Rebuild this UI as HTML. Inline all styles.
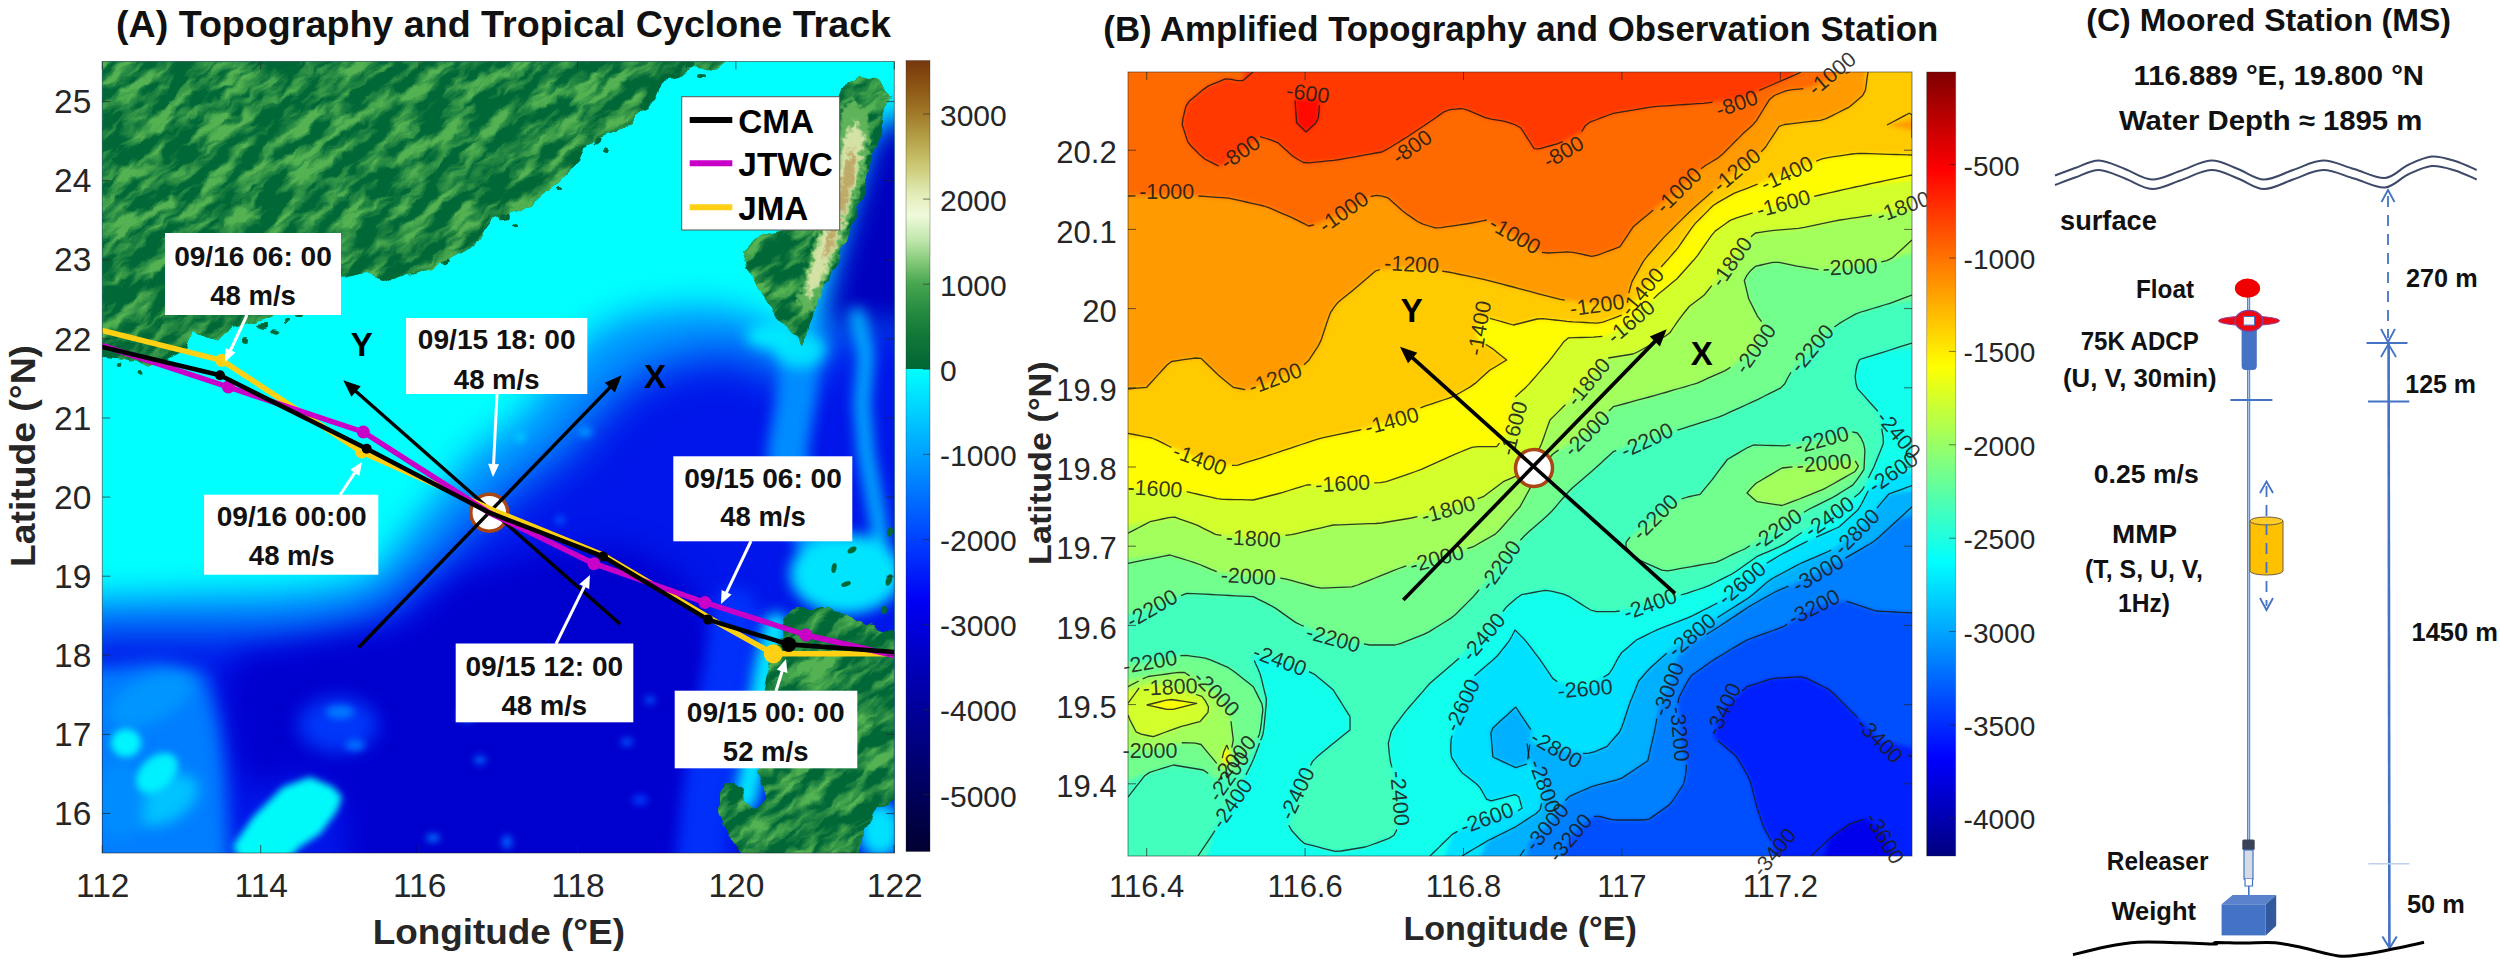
<!DOCTYPE html>
<html><head><meta charset="utf-8"><title>Figure</title>
<style>html,body{margin:0;padding:0;background:#fff}svg{display:block}</style></head><body>
<svg width="2500" height="966" viewBox="0 0 2500 966">
<defs>
<filter id="blurB" x="-20%" y="-20%" width="140%" height="140%" color-interpolation-filters="sRGB"><feGaussianBlur stdDeviation="2.2"/></filter>
<filter id="blA1" x="-20%" y="-20%" width="140%" height="140%" color-interpolation-filters="sRGB"><feGaussianBlur stdDeviation="17"/></filter>
<filter id="blA2" x="-20%" y="-20%" width="140%" height="140%" color-interpolation-filters="sRGB"><feGaussianBlur stdDeviation="22"/></filter>
<filter id="blA3" x="-20%" y="-20%" width="140%" height="140%" color-interpolation-filters="sRGB"><feGaussianBlur stdDeviation="14"/></filter>
<filter id="blA4" x="-20%" y="-20%" width="140%" height="140%" color-interpolation-filters="sRGB"><feGaussianBlur stdDeviation="7"/></filter>
<filter id="blA5" x="-20%" y="-20%" width="140%" height="140%" color-interpolation-filters="sRGB"><feGaussianBlur stdDeviation="3.5"/></filter>
<filter id="blA6" x="-20%" y="-20%" width="140%" height="140%" color-interpolation-filters="sRGB"><feGaussianBlur stdDeviation="9"/></filter>
<filter id="blS" x="-20%" y="-20%" width="140%" height="140%" color-interpolation-filters="sRGB"><feGaussianBlur stdDeviation="2.5"/></filter>
<filter id="landtex" x="0" y="0" width="100%" height="100%" filterUnits="objectBoundingBox" color-interpolation-filters="sRGB"><feTurbulence type="fractalNoise" baseFrequency="0.022 0.075" numOctaves="4" seed="7" result="n"/><feColorMatrix in="n" type="matrix" values="0 0 0 0 0.33  0 0 0 0 0.70  0 0 0 0 0.32  3.4 0 0 0 -1.38"/></filter>
<filter id="coast" filterUnits="userSpaceOnUse" x="60" y="20" width="900" height="900" color-interpolation-filters="sRGB"><feTurbulence type="fractalNoise" baseFrequency="0.07" numOctaves="2" seed="3" result="cn"/><feDisplacementMap in="SourceGraphic" in2="cn" scale="9" xChannelSelector="R" yChannelSelector="G"/></filter>
<filter id="rag" filterUnits="userSpaceOnUse" x="760" y="60" width="160" height="300" color-interpolation-filters="sRGB"><feGaussianBlur in="SourceGraphic" stdDeviation="1.6" result="b"/><feTurbulence type="fractalNoise" baseFrequency="0.16" numOctaves="2" seed="11" result="rn"/><feDisplacementMap in="b" in2="rn" scale="13" xChannelSelector="R" yChannelSelector="G"/></filter>
<linearGradient id="cbB" x1="0" y1="0" x2="0" y2="1">
<stop offset="0.0000" stop-color="rgb(128,0,0)"/>
<stop offset="0.0250" stop-color="rgb(153,0,0)"/>
<stop offset="0.0500" stop-color="rgb(179,0,0)"/>
<stop offset="0.0750" stop-color="rgb(204,0,0)"/>
<stop offset="0.1000" stop-color="rgb(229,0,0)"/>
<stop offset="0.1250" stop-color="rgb(255,0,0)"/>
<stop offset="0.1500" stop-color="rgb(255,26,0)"/>
<stop offset="0.1750" stop-color="rgb(255,51,0)"/>
<stop offset="0.2000" stop-color="rgb(255,76,0)"/>
<stop offset="0.2250" stop-color="rgb(255,102,0)"/>
<stop offset="0.2500" stop-color="rgb(255,128,0)"/>
<stop offset="0.2750" stop-color="rgb(255,153,0)"/>
<stop offset="0.3000" stop-color="rgb(255,179,0)"/>
<stop offset="0.3250" stop-color="rgb(255,204,0)"/>
<stop offset="0.3500" stop-color="rgb(255,229,0)"/>
<stop offset="0.3750" stop-color="rgb(255,255,0)"/>
<stop offset="0.4000" stop-color="rgb(229,255,26)"/>
<stop offset="0.4250" stop-color="rgb(204,255,51)"/>
<stop offset="0.4500" stop-color="rgb(179,255,76)"/>
<stop offset="0.4750" stop-color="rgb(153,255,102)"/>
<stop offset="0.5000" stop-color="rgb(128,255,128)"/>
<stop offset="0.5250" stop-color="rgb(102,255,153)"/>
<stop offset="0.5500" stop-color="rgb(76,255,179)"/>
<stop offset="0.5750" stop-color="rgb(51,255,204)"/>
<stop offset="0.6000" stop-color="rgb(26,255,229)"/>
<stop offset="0.6250" stop-color="rgb(0,255,255)"/>
<stop offset="0.6500" stop-color="rgb(0,229,255)"/>
<stop offset="0.6750" stop-color="rgb(0,204,255)"/>
<stop offset="0.7000" stop-color="rgb(0,179,255)"/>
<stop offset="0.7250" stop-color="rgb(0,153,255)"/>
<stop offset="0.7500" stop-color="rgb(0,128,255)"/>
<stop offset="0.7750" stop-color="rgb(0,102,255)"/>
<stop offset="0.8000" stop-color="rgb(0,76,255)"/>
<stop offset="0.8250" stop-color="rgb(0,51,255)"/>
<stop offset="0.8500" stop-color="rgb(0,26,255)"/>
<stop offset="0.8750" stop-color="rgb(0,0,255)"/>
<stop offset="0.9000" stop-color="rgb(0,0,229)"/>
<stop offset="0.9250" stop-color="rgb(0,0,204)"/>
<stop offset="0.9500" stop-color="rgb(0,0,179)"/>
<stop offset="0.9750" stop-color="rgb(0,0,153)"/>
<stop offset="1.0000" stop-color="rgb(0,0,128)"/>
</linearGradient>
<linearGradient id="cbA" x1="0" y1="0" x2="0" y2="1">
<stop offset="0.0000" stop-color="rgb(118,56,12)"/>
<stop offset="0.0333" stop-color="rgb(140,85,20)"/>
<stop offset="0.0658" stop-color="rgb(160,120,40)"/>
<stop offset="0.0982" stop-color="rgb(180,160,70)"/>
<stop offset="0.1307" stop-color="rgb(202,198,112)"/>
<stop offset="0.1685" stop-color="rgb(226,236,182)"/>
<stop offset="0.1956" stop-color="rgb(240,250,220)"/>
<stop offset="0.2280" stop-color="rgb(190,230,170)"/>
<stop offset="0.2551" stop-color="rgb(130,200,120)"/>
<stop offset="0.2821" stop-color="rgb(72,166,80)"/>
<stop offset="0.3145" stop-color="rgb(40,140,65)"/>
<stop offset="0.3470" stop-color="rgb(18,120,56)"/>
<stop offset="0.3902" stop-color="rgb(0,102,52)"/>
<stop offset="0.3903" stop-color="rgb(0,255,255)"/>
<stop offset="0.4984" stop-color="rgb(0,160,255)"/>
<stop offset="0.6066" stop-color="rgb(0,64,255)"/>
<stop offset="0.6823" stop-color="rgb(0,0,245)"/>
<stop offset="0.7688" stop-color="rgb(0,0,185)"/>
<stop offset="0.8770" stop-color="rgb(0,0,120)"/>
<stop offset="1.0000" stop-color="rgb(0,0,48)"/>
</linearGradient>
</defs>
<rect width="2500" height="966" fill="#fff"/>
<clipPath id="clipA"><rect x="102.3" y="61.5" width="792" height="791.5"/></clipPath>
<clipPath id="landA"><polygon points="102.0,40.0 724.0,40.0 724.0,62.0 711.0,72.0 694.0,67.0 677.0,77.0 664.0,80.0 657.0,97.0 644.0,108.0 627.0,127.0 587.0,143.0 580.0,160.0 560.0,180.0 540.0,197.0 520.0,210.0 493.0,220.0 480.0,238.0 466.0,250.0 432.0,269.0 400.0,277.0 388.0,281.0 366.0,273.0 341.0,278.0 300.0,300.0 273.0,317.0 255.0,323.0 233.0,327.6 217.0,340.0 192.5,334.0 186.0,349.0 167.7,358.7 146.0,365.0 124.0,358.7 102.0,357.0 80.0,357.0 80.0,40.0"/><polygon points="861.0,76.0 877.0,80.0 892.0,95.0 884.0,107.0 881.0,130.0 874.0,150.0 866.0,180.0 857.0,213.0 847.0,240.0 834.0,267.0 826.0,280.0 817.0,303.0 811.0,321.0 807.0,336.0 802.0,345.0 792.0,332.0 773.0,312.0 758.0,290.0 748.0,268.0 742.0,250.0 754.0,238.0 781.0,230.0 775.0,200.0 790.0,160.0 810.0,120.0 839.0,97.0 847.0,83.0"/><polygon points="781.0,621.0 798.0,607.0 829.0,607.0 857.0,621.0 894.0,634.0 920.0,634.0 920.0,801.0 894.0,801.0 877.0,807.0 864.0,831.0 857.0,853.0 857.0,880.0 741.0,880.0 741.0,853.0 727.0,831.0 719.0,811.0 719.0,794.0 724.0,784.0 734.0,781.0 741.0,787.0 744.0,801.0 757.0,807.0 767.0,801.0 761.0,784.0 757.0,771.0 760.7,768.0 761.0,700.0 764.0,686.0 773.0,655.0 782.6,636.6"/></clipPath>
<g clip-path="url(#clipA)">
<rect x="60" y="20" width="900" height="900" fill="rgb(0,255,255)"/>
<g filter="url(#blA1)"><polygon points="60.0,598.0 100.0,598.0 200.0,594.0 274.0,592.0 340.0,585.0 378.0,573.0 400.0,539.0 425.0,510.0 450.0,478.0 477.0,448.0 520.0,418.0 564.0,362.0 595.0,330.0 635.0,312.0 700.0,305.0 750.0,312.0 775.0,328.0 795.0,350.0 812.0,320.0 830.0,280.0 850.0,240.0 862.0,200.0 872.0,160.0 885.0,130.0 894.0,110.0 940.0,110.0 940.0,900.0 60.0,900.0" fill="rgb(0,150,255)"/></g>
<g filter="url(#blA2)"><polygon points="60.0,632.0 100.0,630.0 200.0,630.0 274.0,630.0 335.0,624.0 385.0,608.0 418.0,580.0 448.0,553.0 478.0,520.0 508.0,496.0 538.0,473.0 572.0,448.0 608.0,402.0 648.0,372.0 695.0,357.0 740.0,354.0 772.0,372.0 800.0,380.0 825.0,350.0 845.0,325.0 870.0,318.0 940.0,318.0 940.0,900.0 60.0,900.0" fill="rgb(0,22,234)"/></g>
<g filter="url(#blA3)"><polygon points="240.0,655.0 300.0,645.0 401.0,628.0 459.0,578.0 540.0,553.0 622.0,546.0 680.0,574.0 712.0,625.0 728.0,677.0 709.0,740.0 690.0,798.0 680.0,900.0 350.0,900.0 345.0,820.0 335.0,790.0 300.0,775.0 250.0,790.0 236.0,760.0 228.0,720.0 226.0,680.0" fill="rgb(0,0,206)"/><polygon points="835.0,270.0 850.0,215.0 862.0,175.0 872.0,140.0 884.0,125.0 940.0,120.0 940.0,330.0 894.0,325.0 868.0,322.0 850.0,330.0 826.0,318.0" fill="rgb(0,0,190)"/></g>
<g filter="url(#blA6)"><polygon points="60.0,668.0 100.0,668.0 160.0,662.0 205.0,672.0 218.0,720.0 225.0,770.0 232.0,900.0 60.0,900.0" fill="rgb(0,126,255)"/><ellipse cx="338" cy="725" rx="40" ry="28" fill="rgb(0,55,248)"/></g>
<g filter="url(#blA4)">
<ellipse cx="150" cy="700" rx="45" ry="22" transform="rotate(-25 150 700)" fill="rgb(0,150,255)"/>
<ellipse cx="165" cy="800" rx="36" ry="22" transform="rotate(-30 165 800)" fill="rgb(0,195,255)"/>

<ellipse cx="120" cy="800" rx="25" ry="40" fill="rgb(0,140,255)"/>
<path d="M801 350 L796 400 L787 453 L797 500 L818 545 L838 580" stroke="rgb(0,140,255)" stroke-width="40" fill="none" stroke-linecap="round" stroke-linejoin="round"/>
<path d="M857 315 L866 355 L862 404 L866 453 L878 520 L882 560" stroke="rgb(0,185,255)" stroke-width="15" fill="none" stroke-linecap="round" stroke-linejoin="round"/>
<ellipse cx="846" cy="574" rx="56" ry="40" fill="rgb(0,228,255)"/>
<ellipse cx="800" cy="350" rx="26" ry="18" fill="rgb(0,225,255)"/>
<ellipse cx="772" cy="336" rx="26" ry="12" fill="rgb(0,235,255)"/>
<path d="M735 610 L728 660 L718 720 L708 780 L700 860" stroke="rgb(0,48,250)" stroke-width="46" fill="none" stroke-linecap="round"/>
<path d="M776 625 L766 670 L758 720 L752 770 L745 800" stroke="rgb(0,235,255)" stroke-width="24" fill="none" stroke-linecap="round"/>
<ellipse cx="880" cy="830" rx="22" ry="28" fill="rgb(0,225,255)"/>
</g>
<g filter="url(#blA5)">
<ellipse cx="467" cy="716" rx="9" ry="5" fill="rgb(0,120,255)"/>
<ellipse cx="480" cy="760" rx="6" ry="4" fill="rgb(0,110,255)"/>
<ellipse cx="433" cy="838" rx="7" ry="4" fill="rgb(0,120,255)"/>
<ellipse cx="507" cy="842" rx="5" ry="7" fill="rgb(0,100,255)"/>
<ellipse cx="627" cy="742" rx="6" ry="4" fill="rgb(0,90,255)"/>
<ellipse cx="650" cy="700" rx="5" ry="4" fill="rgb(0,90,255)"/>
<ellipse cx="585" cy="432" rx="7" ry="5" fill="rgb(0,150,255)"/>
<ellipse cx="520" cy="437" rx="6" ry="5" fill="rgb(0,200,255)"/>
<ellipse cx="560" cy="520" rx="5" ry="4" fill="rgb(0,90,255)"/>
<ellipse cx="340" cy="712" rx="14" ry="7" fill="rgb(0,120,255)"/>
<ellipse cx="355" cy="745" rx="10" ry="6" fill="rgb(0,110,255)"/>
<ellipse cx="640" cy="800" rx="8" ry="5" fill="rgb(0,60,255)"/>
<ellipse cx="610" cy="660" rx="8" ry="5" fill="rgb(0,60,255)"/>
<polygon points="233.0,846.0 253.0,817.0 283.0,787.0 310.0,777.0 333.0,787.0 342.0,797.0 337.0,811.0 320.0,834.0 300.0,847.0 287.0,860.0 240.0,860.0" fill="rgb(0,250,250)"/>
<ellipse cx="126" cy="743" rx="15" ry="14" fill="rgb(0,245,255)"/>
<ellipse cx="157" cy="773" rx="24" ry="16" transform="rotate(-42 157 773)" fill="rgb(0,240,255)"/>
</g>
<g filter="url(#coast)"><g clip-path="url(#landA)">
<rect x="60" y="20" width="900" height="900" fill="rgb(0,104,55)"/>
<g transform="rotate(-38 500 450)"><rect x="-300" y="-400" width="1700" height="1700" filter="url(#landtex)" /></g>
</g>
<ellipse cx="690" cy="66" rx="5" ry="3" transform="rotate(-20 690 66)" fill="rgb(0,104,55)"/>
<ellipse cx="702" cy="76" rx="3" ry="2" transform="rotate(0 702 76)" fill="rgb(0,104,55)"/>
<ellipse cx="597" cy="141" rx="5" ry="3" transform="rotate(-30 597 141)" fill="rgb(0,104,55)"/>
<ellipse cx="606" cy="150" rx="3" ry="2" transform="rotate(0 606 150)" fill="rgb(0,104,55)"/>
<ellipse cx="505" cy="217" rx="5" ry="3" transform="rotate(-20 505 217)" fill="rgb(0,104,55)"/>
<ellipse cx="516" cy="224" rx="3" ry="2" transform="rotate(0 516 224)" fill="rgb(0,104,55)"/>
<ellipse cx="262" cy="327" rx="5" ry="3" transform="rotate(0 262 327)" fill="rgb(0,104,55)"/>
<ellipse cx="276" cy="331" rx="4" ry="2.5" transform="rotate(20 276 331)" fill="rgb(0,104,55)"/>
<ellipse cx="287" cy="322" rx="3" ry="2" transform="rotate(0 287 322)" fill="rgb(0,104,55)"/>
<ellipse cx="246" cy="341" rx="4" ry="3" transform="rotate(0 246 341)" fill="rgb(0,104,55)"/>
<ellipse cx="228" cy="352" rx="3" ry="2" transform="rotate(0 228 352)" fill="rgb(0,104,55)"/>
<ellipse cx="140" cy="373" rx="2.5" ry="2" transform="rotate(0 140 373)" fill="rgb(0,104,55)"/>
<ellipse cx="118" cy="363" rx="2.5" ry="2" transform="rotate(0 118 363)" fill="rgb(0,104,55)"/>
<ellipse cx="300" cy="316" rx="3" ry="2" transform="rotate(0 300 316)" fill="rgb(0,104,55)"/>
<ellipse cx="322" cy="309" rx="3" ry="2" transform="rotate(0 322 309)" fill="rgb(0,104,55)"/>
<ellipse cx="447" cy="262" rx="4" ry="2.5" transform="rotate(-30 447 262)" fill="rgb(0,104,55)"/>
<ellipse cx="560" cy="188" rx="3" ry="2" transform="rotate(0 560 188)" fill="rgb(0,104,55)"/>
</g>
<g filter="url(#rag)"><polygon points="852.0,100.0 868.0,110.0 870.0,140.0 862.0,180.0 850.0,215.0 838.0,250.0 826.0,280.0 812.0,310.0 802.0,318.0 798.0,300.0 806.0,270.0 815.0,240.0 822.0,215.0 830.0,180.0 838.0,140.0 842.0,110.0" fill="rgb(95,180,90)"/></g>
<g filter="url(#rag)"><polygon points="855.0,120.0 864.0,135.0 858.0,175.0 846.0,215.0 834.0,250.0 820.0,285.0 808.0,300.0 806.0,285.0 816.0,250.0 826.0,215.0 836.0,175.0 846.0,135.0" fill="rgb(212,226,165)"/><polygon points="853.0,145.0 856.0,160.0 848.0,198.0 838.0,228.0 828.0,256.0 823.0,258.0 829.0,233.0 838.0,200.0 847.0,160.0" fill="rgb(190,170,105)"/></g>
<ellipse cx="852" cy="550" rx="5" ry="3" transform="rotate(-30 852 550)" fill="rgb(0,104,55)"/>
<ellipse cx="834" cy="568" rx="2.5" ry="5" transform="rotate(10 834 568)" fill="rgb(0,104,55)"/>
<ellipse cx="846" cy="584" rx="5" ry="2.5" transform="rotate(-20 846 584)" fill="rgb(0,104,55)"/>
<ellipse cx="889" cy="580" rx="3" ry="6" transform="rotate(20 889 580)" fill="rgb(0,104,55)"/>
<ellipse cx="890" cy="532" rx="3" ry="5" transform="rotate(10 890 532)" fill="rgb(0,104,55)"/>
<ellipse cx="884" cy="610" rx="3" ry="4" transform="rotate(0 884 610)" fill="rgb(0,104,55)"/>
<circle cx="489.3" cy="512.7" r="18.5" fill="#fff" stroke="rgb(170,70,20)" stroke-width="3.5"/>
<line x1="620.0" y1="624.0" x2="354.6" y2="390.2" stroke="#000" stroke-width="3.4"/><polygon points="343.3,380.3 360.7,386.3 351.4,396.8" fill="#000"/>
<line x1="358.7" y1="647.5" x2="611.3" y2="386.1" stroke="#000" stroke-width="3.4"/><polygon points="621.7,375.3 614.9,392.4 604.9,382.7" fill="#000"/>
<polyline points="102.0,330.3 221.7,360.3 361.7,452.0 495.0,511.0 603.0,555.0 717.4,622.7 773.3,653.7 894.4,653.7" fill="none" stroke="rgb(255,208,20)" stroke-width="5.5" stroke-linejoin="round"/>
<circle cx="221.7" cy="360.3" r="6.5" fill="rgb(255,208,20)"/>
<circle cx="361.7" cy="452" r="6.5" fill="rgb(255,208,20)"/>
<circle cx="773.3" cy="653.7" r="9.5" fill="rgb(255,208,20)"/>
<polyline points="102.0,345.3 228.3,387.0 363.3,432.0 489.3,512.7 594.0,563.7 705.0,602.5 805.9,635.0 894.4,655.5" fill="none" stroke="rgb(200,0,200)" stroke-width="5.5" stroke-linejoin="round"/>
<circle cx="228.3" cy="387" r="6.5" fill="rgb(200,0,200)"/>
<circle cx="363.3" cy="432" r="6.5" fill="rgb(200,0,200)"/>
<circle cx="594" cy="563.7" r="6.5" fill="rgb(200,0,200)"/>
<circle cx="705" cy="602.5" r="6.5" fill="rgb(200,0,200)"/>
<circle cx="805.9" cy="635" r="6.5" fill="rgb(200,0,200)"/>
<polyline points="102.0,347.0 220.0,375.3 366.7,448.7 489.3,512.7 603.0,556.5 708.0,619.6 788.8,644.4 894.4,652.0" fill="none" stroke="#000" stroke-width="4.6" stroke-linejoin="round"/>
<circle cx="220" cy="375.3" r="5" fill="#000"/>
<circle cx="366.7" cy="448.7" r="5" fill="#000"/>
<circle cx="603" cy="556.5" r="5" fill="#000"/>
<circle cx="708" cy="619.6" r="5" fill="#000"/>
<circle cx="788.8" cy="644.4" r="7.5" fill="#000"/>
<line x1="247.0" y1="315.0" x2="229.7" y2="352.0" stroke="#fff" stroke-width="3"/><polygon points="225.0,362.0 225.5,347.9 235.5,352.6" fill="#fff"/>
<line x1="340.0" y1="495.0" x2="355.9" y2="471.2" stroke="#fff" stroke-width="3"/><polygon points="362.0,462.0 359.4,475.9 350.2,469.8" fill="#fff"/>
<line x1="497.0" y1="394.0" x2="493.5" y2="466.0" stroke="#fff" stroke-width="3"/><polygon points="493.0,477.0 488.1,463.8 499.1,464.3" fill="#fff"/>
<line x1="751.0" y1="541.0" x2="725.7" y2="594.1" stroke="#fff" stroke-width="3"/><polygon points="721.0,604.0 721.6,589.9 731.6,594.6" fill="#fff"/>
<line x1="556.0" y1="644.0" x2="585.1" y2="584.9" stroke="#fff" stroke-width="3"/><polygon points="590.0,575.0 589.2,589.1 579.3,584.2" fill="#fff"/>
<line x1="776.0" y1="691.0" x2="782.7" y2="669.5" stroke="#fff" stroke-width="3"/><polygon points="786.0,659.0 787.4,673.0 776.9,669.8" fill="#fff"/>
</g>
<g font-family="'Liberation Sans',Arial,sans-serif" font-weight="bold" font-size="27.5" text-anchor="middle" fill="#111">
<rect x="165.0" y="233.0" width="176.0" height="82.0" fill="#fff"/>
<text x="253.0" y="266.0" textLength="157.7" lengthAdjust="spacingAndGlyphs">09/16 06: 00</text>
<text x="253.0" y="305.0" textLength="85.7" lengthAdjust="spacingAndGlyphs">48 m/s</text>
<rect x="406.0" y="318.0" width="181.3" height="76.0" fill="#fff"/>
<text x="496.7" y="348.7" textLength="157.7" lengthAdjust="spacingAndGlyphs">09/15 18: 00</text>
<text x="496.7" y="388.7" textLength="85.7" lengthAdjust="spacingAndGlyphs">48 m/s</text>
<rect x="204.0" y="494.7" width="174.3" height="80.0" fill="#fff"/>
<text x="291.7" y="526.0" textLength="150.0" lengthAdjust="spacingAndGlyphs">09/16 00:00</text>
<text x="291.7" y="565.3" textLength="85.7" lengthAdjust="spacingAndGlyphs">48 m/s</text>
<rect x="673.3" y="456.3" width="179.0" height="85.0" fill="#fff"/>
<text x="763.0" y="487.7" textLength="157.7" lengthAdjust="spacingAndGlyphs">09/15 06: 00</text>
<text x="763.0" y="526.0" textLength="85.7" lengthAdjust="spacingAndGlyphs">48 m/s</text>
<rect x="455.7" y="643.5" width="177.6" height="78.8" fill="#fff"/>
<text x="544.3" y="675.7" textLength="157.7" lengthAdjust="spacingAndGlyphs">09/15 12: 00</text>
<text x="544.3" y="714.7" textLength="85.7" lengthAdjust="spacingAndGlyphs">48 m/s</text>
<rect x="674.7" y="690.7" width="182.6" height="77.6" fill="#fff"/>
<text x="765.7" y="722.3" textLength="157.7" lengthAdjust="spacingAndGlyphs">09/15 00: 00</text>
<text x="765.7" y="761.3" textLength="85.7" lengthAdjust="spacingAndGlyphs">52 m/s</text>
</g>
<g font-family="'Liberation Sans',Arial,sans-serif" font-weight="bold" font-size="33" text-anchor="middle" fill="#000">
<text x="361.7" y="355.5">Y</text><text x="655" y="387.5">X</text></g>
<rect x="681.7" y="96.7" width="158" height="133.3" fill="#fff" stroke="#555" stroke-width="1"/>
<line x1="689.7" y1="120" x2="732.3" y2="120" stroke="#000" stroke-width="6"/>
<line x1="689.7" y1="163.3" x2="732.3" y2="163.3" stroke="rgb(200,0,200)" stroke-width="6"/>
<line x1="689.7" y1="207.3" x2="732.3" y2="207.3" stroke="rgb(255,208,20)" stroke-width="6"/>
<g font-family="'Liberation Sans',Arial,sans-serif" font-weight="bold" font-size="33" fill="#000">
<text x="738.3" y="132.7" textLength="75.7" lengthAdjust="spacingAndGlyphs">CMA</text>
<text x="738.3" y="175.7" textLength="94.7" lengthAdjust="spacingAndGlyphs">JTWC</text>
<text x="738.3" y="220" textLength="70" lengthAdjust="spacingAndGlyphs">JMA</text>
</g>
<rect x="102.3" y="61.5" width="792" height="791.5" fill="none" stroke="#262626" stroke-opacity="0.55" stroke-width="1"/>
<g stroke="#262626" stroke-opacity="0.7" stroke-width="1">
<line x1="102.3" y1="813.5" x2="110.3" y2="813.5"/>
<line x1="894.3" y1="813.5" x2="886.3" y2="813.5"/>
<line x1="102.3" y1="734.4" x2="110.3" y2="734.4"/>
<line x1="894.3" y1="734.4" x2="886.3" y2="734.4"/>
<line x1="102.3" y1="655.2" x2="110.3" y2="655.2"/>
<line x1="894.3" y1="655.2" x2="886.3" y2="655.2"/>
<line x1="102.3" y1="576.2" x2="110.3" y2="576.2"/>
<line x1="894.3" y1="576.2" x2="886.3" y2="576.2"/>
<line x1="102.3" y1="497.1" x2="110.3" y2="497.1"/>
<line x1="894.3" y1="497.1" x2="886.3" y2="497.1"/>
<line x1="102.3" y1="418.0" x2="110.3" y2="418.0"/>
<line x1="894.3" y1="418.0" x2="886.3" y2="418.0"/>
<line x1="102.3" y1="338.9" x2="110.3" y2="338.9"/>
<line x1="894.3" y1="338.9" x2="886.3" y2="338.9"/>
<line x1="102.3" y1="259.8" x2="110.3" y2="259.8"/>
<line x1="894.3" y1="259.8" x2="886.3" y2="259.8"/>
<line x1="102.3" y1="180.7" x2="110.3" y2="180.7"/>
<line x1="894.3" y1="180.7" x2="886.3" y2="180.7"/>
<line x1="102.3" y1="101.6" x2="110.3" y2="101.6"/>
<line x1="894.3" y1="101.6" x2="886.3" y2="101.6"/>
<line x1="102.3" y1="853" x2="102.3" y2="845"/>
<line x1="102.3" y1="61.5" x2="102.3" y2="69.5"/>
<line x1="260.7" y1="853" x2="260.7" y2="845"/>
<line x1="260.7" y1="61.5" x2="260.7" y2="69.5"/>
<line x1="419.1" y1="853" x2="419.1" y2="845"/>
<line x1="419.1" y1="61.5" x2="419.1" y2="69.5"/>
<line x1="577.5" y1="853" x2="577.5" y2="845"/>
<line x1="577.5" y1="61.5" x2="577.5" y2="69.5"/>
<line x1="735.9" y1="853" x2="735.9" y2="845"/>
<line x1="735.9" y1="61.5" x2="735.9" y2="69.5"/>
<line x1="894.3" y1="853" x2="894.3" y2="845"/>
<line x1="894.3" y1="61.5" x2="894.3" y2="69.5"/>
</g>
<g font-family="'Liberation Sans',Arial,sans-serif" font-size="33.5" fill="#262626">
<text x="91.3" y="825.1" text-anchor="end">16</text>
<text x="91.3" y="746.0" text-anchor="end">17</text>
<text x="91.3" y="666.9" text-anchor="end">18</text>
<text x="91.3" y="587.8" text-anchor="end">19</text>
<text x="91.3" y="508.7" text-anchor="end">20</text>
<text x="91.3" y="429.6" text-anchor="end">21</text>
<text x="91.3" y="350.5" text-anchor="end">22</text>
<text x="91.3" y="271.4" text-anchor="end">23</text>
<text x="91.3" y="192.3" text-anchor="end">24</text>
<text x="91.3" y="113.2" text-anchor="end">25</text>
<text x="102.8" y="896.6" text-anchor="middle">112</text>
<text x="261.2" y="896.6" text-anchor="middle">114</text>
<text x="419.6" y="896.6" text-anchor="middle">116</text>
<text x="578.0" y="896.6" text-anchor="middle">118</text>
<text x="736.4" y="896.6" text-anchor="middle">120</text>
<text x="894.8" y="896.6" text-anchor="middle">122</text>
</g>
<text x="116" y="36.7" font-family="'Liberation Sans',Arial,sans-serif" font-weight="bold" font-size="37.5" fill="#111" textLength="775" lengthAdjust="spacingAndGlyphs">(A) Topography and Tropical Cyclone Track</text>
<text x="372.7" y="944" font-family="'Liberation Sans',Arial,sans-serif" font-weight="bold" font-size="35" fill="#262626" textLength="252.3" lengthAdjust="spacingAndGlyphs">Longitude (°E)</text>
<text transform="translate(35 567) rotate(-90)" font-family="'Liberation Sans',Arial,sans-serif" font-weight="bold" font-size="35" fill="#262626" textLength="222" lengthAdjust="spacingAndGlyphs">Latitude (°N)</text>
<rect x="906" y="60.5" width="24" height="791" fill="url(#cbA)"/>
<rect x="906" y="60.5" width="24" height="791" fill="none" stroke="#262626" stroke-opacity="0.4" stroke-width="0.8"/>
<g font-family="'Liberation Sans',Arial,sans-serif" font-size="30" fill="#262626">
<line x1="923" y1="114.0" x2="930" y2="114.0" stroke="#262626" stroke-opacity="0.6"/>
<text x="940" y="125.7">3000</text>
<line x1="923" y1="199.1" x2="930" y2="199.1" stroke="#262626" stroke-opacity="0.6"/>
<text x="940" y="210.8">2000</text>
<line x1="923" y1="284.2" x2="930" y2="284.2" stroke="#262626" stroke-opacity="0.6"/>
<text x="940" y="295.9">1000</text>
<line x1="923" y1="369.3" x2="930" y2="369.3" stroke="#262626" stroke-opacity="0.6"/>
<text x="940" y="381.0">0</text>
<line x1="923" y1="454.4" x2="930" y2="454.4" stroke="#262626" stroke-opacity="0.6"/>
<text x="940" y="466.1">-1000</text>
<line x1="923" y1="539.5" x2="930" y2="539.5" stroke="#262626" stroke-opacity="0.6"/>
<text x="940" y="551.2">-2000</text>
<line x1="923" y1="624.6" x2="930" y2="624.6" stroke="#262626" stroke-opacity="0.6"/>
<text x="940" y="636.3">-3000</text>
<line x1="923" y1="709.7" x2="930" y2="709.7" stroke="#262626" stroke-opacity="0.6"/>
<text x="940" y="721.4">-4000</text>
<line x1="923" y1="794.8" x2="930" y2="794.8" stroke="#262626" stroke-opacity="0.6"/>
<text x="940" y="806.5">-5000</text>
</g>
<clipPath id="clipB"><rect x="1128" y="72" width="784" height="784"/></clipPath>
<g clip-path="url(#clipB)">
<g filter="url(#blurB)">
<rect x="1088" y="32" width="864" height="864" fill="rgb(255,106,0)"/>
<polygon points="1253.0,32.0 1241.7,81.7 1226.7,78.3 1206.7,86.7 1186.7,103.3 1181.7,123.3 1188.3,143.3 1203.3,158.3 1220.0,166.7 1240.0,152.0 1260.0,136.7 1276.7,141.7 1293.3,156.7 1305.0,163.3 1336.7,160.0 1383.3,151.7 1407.0,137.0 1430.0,121.7 1446.7,110.0 1463.3,108.3 1486.7,118.3 1506.7,121.7 1520.0,126.7 1535.0,150.0 1560.0,143.0 1581.7,131.7 1586.7,123.3 1613.3,113.3 1653.3,106.7 1703.3,103.3 1740.0,99.0 1764.7,88.0 1794.7,75.0 1801.0,32.0" fill="rgb(255,57,0)"/>
<polygon points="1295.0,99.0 1320.0,99.0 1318.0,121.0 1306.0,132.0 1296.6,122.7" fill="rgb(255,9,0)"/>
<polygon points="1088.0,196.0 1167.0,195.0 1200.0,196.0 1230.0,198.3 1266.7,206.7 1293.3,218.3 1310.0,226.7 1343.0,212.0 1373.3,195.0 1386.7,196.7 1403.3,211.7 1420.0,223.3 1436.7,228.3 1470.0,223.3 1486.7,220.0 1517.0,236.0 1543.3,253.3 1570.0,251.7 1593.3,256.7 1620.0,246.7 1633.3,226.7 1653.3,210.0 1678.0,189.0 1703.3,166.7 1720.0,156.7 1743.3,133.3 1754.7,123.3 1771.3,96.7 1788.0,90.0 1808.0,88.3 1831.0,78.0 1850.0,32.0 1952.0,32.0 1952.0,896.0 1088.0,896.0" fill="rgb(255,154,0)"/>
<polygon points="1088.0,389.0 1146.7,387.3 1170.0,361.7 1200.0,357.3 1220.0,376.7 1233.3,387.3 1246.7,390.0 1275.0,379.0 1306.7,363.3 1320.0,343.3 1330.0,313.3 1336.7,303.3 1353.3,290.0 1376.7,270.0 1411.7,267.0 1446.7,271.7 1486.7,280.0 1536.7,293.3 1563.3,300.0 1597.0,303.0 1627.0,299.0 1632.0,281.6 1644.5,259.3 1664.3,236.9 1689.2,212.0 1711.6,192.2 1736.4,170.0 1763.7,149.9 1780.0,125.0 1823.3,120.0 1850.0,106.7 1865.0,93.3 1868.0,32.0 1952.0,32.0 1952.0,896.0 1088.0,896.0" fill="rgb(255,202,0)"/>
<polygon points="1887.0,125.0 1952.0,111.7 1952.0,138.0" fill="rgb(255,154,0)"/>
<polygon points="1088.0,433.3 1153.3,438.3 1170.0,446.7 1200.0,459.0 1235.0,466.0 1270.0,455.0 1320.0,438.3 1360.0,430.0 1391.7,420.0 1423.3,406.7 1453.3,396.7 1473.3,385.0 1490.0,370.0 1506.7,360.0 1490.0,346.7 1477.0,340.0 1476.0,325.0 1490.0,318.3 1513.3,325.0 1540.0,318.3 1570.0,321.7 1600.0,323.3 1624.6,313.9 1642.0,292.0 1656.9,271.7 1676.8,249.3 1694.2,224.5 1714.0,204.6 1733.9,193.4 1756.3,184.7 1786.7,173.3 1823.3,158.3 1856.7,153.3 1952.0,155.0 1952.0,896.0 1088.0,896.0" fill="rgb(255,251,0)"/>
<polygon points="1088.0,487.0 1155.0,489.0 1186.7,491.7 1220.0,499.3 1253.3,500.0 1280.0,493.3 1306.7,485.0 1342.7,483.3 1383.3,482.7 1420.0,470.0 1453.3,455.0 1473.3,446.7 1496.7,446.7 1510.0,430.0 1511.7,400.0 1526.7,386.7 1550.0,360.0 1566.7,338.0 1594.8,337.0 1607.0,336.0 1630.8,321.4 1656.9,295.3 1676.8,279.0 1696.6,256.8 1714.0,232.0 1731.4,219.5 1751.3,213.3 1783.0,204.0 1820.0,195.0 1856.7,186.7 1952.0,175.0 1952.0,896.0 1088.0,896.0" fill="rgb(211,255,44)"/>
<polygon points="1088.0,533.3 1150.0,521.7 1173.3,516.7 1196.7,525.0 1216.7,535.0 1253.3,538.3 1290.0,535.0 1333.3,525.0 1380.0,523.3 1410.0,518.3 1448.3,509.3 1483.3,496.7 1503.3,481.7 1515.0,476.7 1534.0,460.0 1541.7,443.3 1550.0,420.0 1560.0,410.0 1588.3,381.7 1606.7,358.3 1634.5,353.7 1654.4,342.5 1669.3,333.8 1679.3,318.9 1689.2,306.5 1704.0,295.3 1731.4,261.7 1753.8,233.2 1771.2,230.7 1800.0,228.2 1840.0,220.0 1873.3,215.0 1952.0,204.0 1952.0,896.0 1088.0,896.0" fill="rgb(163,255,92)"/>
<polygon points="1088.0,563.3 1170.0,555.0 1196.7,563.3 1216.7,571.7 1248.3,576.0 1283.3,578.3 1320.0,588.3 1353.3,586.7 1386.7,573.3 1403.3,566.7 1436.7,558.3 1473.3,546.7 1496.7,533.3 1520.0,506.7 1528.3,491.7 1540.0,470.0 1553.3,453.3 1586.7,433.3 1613.3,406.7 1656.7,395.0 1696.7,383.3 1726.7,370.0 1755.0,348.3 1763.0,323.0 1758.8,318.9 1748.8,299.0 1743.9,279.0 1753.8,266.7 1776.0,261.7 1800.0,266.7 1820.0,270.0 1850.0,268.0 1890.0,260.0 1952.0,240.0 1952.0,896.0 1088.0,896.0" fill="rgb(114,255,141)"/>
<polygon points="1088.0,622.0 1151.7,608.3 1186.7,593.3 1220.0,595.0 1253.3,596.7 1273.3,606.7 1296.7,623.3 1333.3,638.3 1370.0,645.0 1396.7,645.0 1426.7,633.3 1453.3,616.7 1473.3,596.7 1500.0,565.0 1523.3,536.7 1550.0,513.3 1570.0,490.0 1593.3,470.0 1613.3,451.7 1646.7,440.0 1683.3,428.3 1720.0,416.7 1756.7,400.0 1783.3,386.7 1790.0,373.3 1811.7,348.3 1836.7,325.0 1856.7,313.3 1890.0,303.3 1952.0,295.0 1952.0,896.0 1088.0,896.0" fill="rgb(66,255,189)"/>
<polygon points="1784.5,445.8 1752.0,445.0 1727.3,459.5 1712.4,479.4 1700.0,494.3 1683.0,498.0 1655.0,517.0 1630.0,537.0 1624.0,545.0 1636.6,559.0 1664.6,571.4 1717.4,562.0 1736.0,552.8 1744.7,549.0 1777.0,529.0 1809.3,509.0 1834.0,496.8 1854.0,484.3 1864.0,469.4 1865.0,447.0 1859.0,433.4 1849.0,431.0 1821.7,439.6" fill="rgb(114,255,141)"/>
<polygon points="1782.0,468.0 1754.7,484.0 1747.0,493.0 1757.0,501.7 1782.0,505.5 1799.4,499.0 1824.0,489.0 1856.5,470.7 1859.0,464.5 1854.0,459.5 1824.0,463.0" fill="rgb(163,255,92)"/>
<polygon points="1088.0,664.0 1150.0,661.7 1183.3,655.0 1206.7,658.3 1230.0,668.3 1253.3,686.7 1263.3,706.7 1260.0,733.3 1250.0,753.3 1236.0,773.0 1216.7,780.0 1203.3,770.0 1173.3,765.0 1146.7,773.3 1088.0,797.0" fill="rgb(114,255,141)"/>
<polygon points="1088.0,686.7 1146.7,676.7 1183.3,671.7 1216.7,693.3 1230.0,713.3 1233.3,740.0 1230.0,756.7 1223.3,770.0 1216.7,763.3 1200.0,743.3 1183.3,742.7 1150.0,750.0 1088.0,750.0" fill="rgb(163,255,92)"/>
<polygon points="1088.0,703.3 1140.0,686.7 1153.3,683.3 1170.0,686.7 1203.3,696.7 1210.0,710.0 1200.0,721.7 1180.0,726.7 1153.3,736.7 1136.7,733.3 1130.0,720.0 1088.0,715.0" fill="rgb(211,255,44)"/>
<polygon points="1146.7,705.0 1170.0,699.3 1196.7,703.3 1170.0,710.0" fill="rgb(255,251,0)"/>
<polygon points="1226.7,745.0 1231.7,756.7 1226.7,770.0 1221.7,756.7" fill="rgb(255,251,0)"/>
<polygon points="1198.0,896.0 1213.3,833.3 1231.7,803.3 1253.3,760.0 1263.3,733.3 1266.7,700.0 1260.0,673.3 1251.7,655.0 1280.0,660.0 1313.3,673.3 1333.3,690.0 1350.0,716.7 1350.0,730.0 1333.3,743.3 1313.3,760.0 1296.7,793.3 1288.3,826.7 1303.3,843.3 1336.7,851.7 1366.7,846.7 1393.3,836.7 1398.3,826.7 1400.0,798.3 1390.0,760.0 1388.3,743.3 1391.7,730.0 1406.7,710.0 1430.0,683.3 1453.3,663.3 1483.3,636.7 1506.7,606.7 1520.0,595.0 1546.7,590.0 1566.7,595.0 1593.3,611.7 1616.7,611.7 1650.0,604.0 1686.7,593.3 1706.7,586.7 1733.3,573.3 1756.7,556.7 1783.3,545.0 1799.4,534.0 1829.2,516.6 1861.5,491.8 1873.9,467.0 1883.9,442.0 1878.9,412.3 1856.5,387.5 1855.0,375.0 1858.3,360.0 1890.0,350.0 1952.0,343.0 1952.0,896.0" fill="rgb(18,255,237)"/>
<polygon points="1430.0,896.0 1453.3,833.3 1486.7,818.0 1522.5,809.7 1518.0,793.8 1488.0,801.7 1479.0,785.8 1461.0,772.0 1450.8,756.0 1450.8,740.0 1462.0,705.0 1473.3,676.7 1496.7,656.7 1510.0,640.0 1515.0,630.0 1525.0,640.0 1540.7,660.5 1554.4,681.0 1585.0,688.5 1610.0,673.3 1620.5,653.7 1636.4,640.0 1656.7,630.0 1690.0,617.0 1720.0,601.7 1741.7,583.0 1766.7,563.3 1782.0,554.0 1811.8,539.0 1839.0,527.0 1859.0,509.0 1869.0,489.3 1893.0,474.0 1952.0,466.0 1952.0,896.0" fill="rgb(0,224,255)"/>
<polygon points="1462.0,896.0 1488.0,840.5 1515.7,826.8 1540.0,811.0 1545.0,786.0 1529.0,758.5 1527.0,742.0 1556.7,749.0 1586.0,754.0 1595.0,751.6 1606.7,746.7 1620.5,731.0 1629.6,703.8 1638.7,681.0 1650.0,668.0 1666.7,653.3 1691.7,635.0 1720.0,616.0 1750.0,597.0 1769.6,580.0 1799.4,564.0 1834.0,549.0 1856.5,531.6 1874.0,511.7 1888.8,494.0 1952.0,485.6 1952.0,896.0" fill="rgb(0,176,255)"/>
<polygon points="1515.7,707.0 1490.6,730.0 1492.9,757.0 1515.7,767.6 1527.0,764.0 1531.6,731.0" fill="rgb(0,176,255)"/>
<polygon points="1520.0,896.0 1529.0,842.7 1546.7,826.7 1568.0,797.0 1593.0,786.0 1620.5,779.0 1647.8,760.7 1654.6,731.0 1659.0,706.0 1668.0,689.0 1678.0,658.0 1690.0,645.0 1723.0,624.0 1750.0,606.0 1776.7,591.0 1794.4,583.7 1818.0,573.0 1844.0,558.9 1874.0,541.5 1898.8,519.0 1952.0,506.7 1952.0,896.0" fill="rgb(0,128,255)"/>
<polygon points="1550.0,896.0 1570.0,837.5 1588.6,820.0 1595.4,815.4 1613.6,820.0 1647.8,820.0 1670.6,804.0 1684.0,783.5 1686.7,768.0 1680.0,734.0 1677.7,700.0 1690.0,676.7 1713.3,660.0 1746.7,640.0 1783.3,626.7 1813.8,607.0 1845.0,600.8 1876.0,611.0 1952.0,613.0 1952.0,896.0" fill="rgb(0,79,255)"/>
<polygon points="1781.0,896.0 1774.0,846.0 1763.3,826.7 1756.7,806.7 1750.0,780.0 1736.7,756.7 1713.3,736.7 1723.3,709.0 1746.7,686.7 1773.3,678.3 1803.3,676.7 1830.0,690.0 1853.3,713.3 1880.0,740.0 1952.0,757.0 1952.0,896.0" fill="rgb(0,31,255)"/>
<polygon points="1811.0,896.0 1830.4,837.7 1849.7,823.9 1866.2,818.4 1885.0,836.0 1905.0,896.0" fill="rgb(0,0,237)"/>
</g>
<g fill="none" stroke="#1a1a1a" stroke-width="1.3" stroke-opacity="0.85" stroke-linejoin="round">
<path d="M1253.0 72.0 L1248.0 76.3 L1243.0 80.6 L1237.2 80.7 L1231.2 79.3 L1225.3 78.9 L1219.6 81.3 L1213.8 83.7 L1208.1 86.1 L1203.2 89.6 L1198.5 93.5 L1193.8 97.4 L1189.1 101.3 L1185.9 106.4 L1184.4 112.5 L1182.9 118.7 L1182.2 124.7 L1184.1 130.4 L1185.9 136.2 L1187.8 141.9 L1191.5 146.5 L1195.8 150.8 L1200.1 155.1 L1204.7 159.0 L1210.3 161.8 L1215.8 164.6 L1218.6 166.0"/>
<path d="M1260.0 136.7 L1266.1 138.5 L1272.1 140.3 L1277.9 142.8 L1282.6 147.1 L1287.4 151.3 L1292.1 155.6 L1297.7 159.2 L1303.5 162.5 L1309.5 162.8 L1315.6 162.2 L1321.6 161.6 L1327.6 160.9 L1333.7 160.3 L1339.7 159.5 L1345.7 158.4 L1351.7 157.3 L1357.7 156.3 L1363.8 155.2 L1369.8 154.1 L1375.8 153.0 L1381.8 152.0 L1387.2 149.2 L1392.5 146.0 L1397.8 142.7 L1403.0 139.4 L1408.3 136.2 L1413.4 132.8 L1418.5 129.3 L1423.6 126.0 L1428.7 122.5 L1433.9 119.0 L1439.0 115.4 L1444.1 111.8 L1449.7 109.7 L1455.8 109.1 L1461.8 108.5 L1467.7 110.2 L1473.5 112.7 L1479.4 115.2 L1485.2 117.7 L1491.3 119.1 L1497.5 120.1 L1503.6 121.2 L1509.7 122.8 L1515.6 125.0 L1520.8 128.0 L1524.2 133.2 L1527.5 138.3 L1530.8 143.5 L1534.2 148.7 L1539.4 148.8 L1545.3 147.1 L1551.2 145.5 L1557.1 143.8 L1562.7 141.6"/>
<path d="M1581.7 131.7 L1585.0 126.1 L1589.7 122.2 L1595.6 120.0 L1601.5 117.7 L1607.4 115.5 L1613.3 113.3 L1619.2 112.3 L1625.2 111.3 L1631.1 110.4 L1637.0 109.4 L1642.9 108.4 L1648.9 107.4 L1654.8 106.6 L1660.9 106.2 L1666.9 105.8 L1673.0 105.4 L1679.1 104.9 L1685.1 104.5 L1691.2 104.1 L1697.2 103.7 L1703.3 103.3 L1709.4 102.6 L1712.5 102.2"/>
<path d="M1759.2 90.4 L1764.7 88.0 L1770.4 85.5 L1776.1 83.0 L1781.8 80.6 L1787.6 78.1 L1793.3 75.6 L1799.4 72.8 L1801.0 72.0"/>
<path d="M1319.4 105.3 L1318.9 111.6 L1318.3 117.9 L1315.6 123.2 L1310.8 127.6 L1306.0 132.0 L1301.3 127.3 L1296.6 122.7 L1296.2 116.4 L1295.7 110.1 L1295.3 103.7 L1295.1 100.6"/>
<path d="M1128.0 196.0 L1134.0 195.8 L1135.5 195.8"/>
<path d="M1198.5 196.0 L1204.5 196.3 L1210.5 196.8 L1216.5 197.3 L1222.5 197.7 L1228.5 198.2 L1234.4 199.3 L1240.3 200.7 L1246.1 202.0 L1252.0 203.3 L1257.9 204.7 L1263.8 206.0 L1269.5 207.9 L1275.1 210.4 L1280.7 212.8 L1286.3 215.2 L1291.9 217.7 L1297.5 220.4 L1303.0 223.2 L1308.6 226.0 L1314.1 224.9"/>
<path d="M1370.7 196.5 L1376.3 195.4 L1382.2 196.1 L1387.9 197.8 L1392.6 202.1 L1397.4 206.3 L1402.1 210.6 L1407.2 214.4 L1412.3 217.9 L1417.4 221.5 L1423.0 224.2 L1429.1 226.0 L1435.2 227.8 L1441.2 227.6 L1447.3 226.7 L1453.3 225.8 L1459.4 224.9 L1465.5 224.0 L1471.5 223.0 L1477.6 221.8 L1483.7 220.6 L1486.7 220.0"/>
<path d="M1542.0 252.4 L1548.0 253.0 L1554.3 252.6 L1560.6 252.3 L1566.9 251.9 L1573.1 252.4 L1579.3 253.7 L1585.5 255.0 L1591.7 256.4 L1597.5 255.1 L1603.1 253.0 L1608.8 250.9 L1614.4 248.8 L1620.0 246.7 L1623.3 241.7 L1626.7 236.7 L1630.0 231.7 L1633.3 226.7 L1638.0 222.8 L1642.7 218.8 L1647.4 214.9 L1652.1 211.0 L1653.3 210.0"/>
<path d="M1701.0 168.7 L1706.1 165.0 L1711.7 161.7 L1717.2 158.4 L1722.1 154.6 L1726.4 150.3 L1730.6 146.1 L1734.8 141.8 L1739.1 137.6 L1743.3 133.3 L1747.9 129.3 L1752.4 125.3 L1756.4 120.6 L1759.7 115.3 L1763.0 110.0 L1766.3 104.7 L1769.6 99.4 L1774.3 95.5 L1780.4 93.0 L1786.5 90.6 L1792.6 89.6 L1798.8 89.1 L1803.4 88.7"/>
<path d="M1845.6 73.4 L1850.0 72.0"/>
<path d="M1128.0 389.0 L1134.2 388.4 L1140.5 387.9 L1146.7 387.3 L1150.8 382.8 L1154.8 378.4 L1158.9 373.9 L1162.9 369.5 L1167.0 365.0 L1171.5 361.5 L1177.5 360.6 L1183.5 359.7 L1189.5 358.8 L1195.5 358.0 L1201.1 358.4 L1205.6 362.7 L1210.0 367.0 L1214.4 371.3 L1218.9 375.6 L1223.6 379.6 L1228.5 383.4 L1233.3 387.3 L1239.3 388.5 L1245.2 389.7"/>
<path d="M1303.9 364.7 L1308.4 360.8 L1311.7 355.8 L1315.0 350.8 L1318.3 345.8 L1321.0 340.4 L1322.9 334.7 L1324.8 329.0 L1326.7 323.3 L1328.6 317.6 L1330.8 312.1 L1334.2 307.1 L1337.9 302.4 L1342.6 298.6 L1347.4 294.8 L1352.1 290.9 L1356.8 287.0 L1361.5 283.0 L1366.2 279.0 L1370.8 275.0 L1375.5 271.0 L1379.7 269.7"/>
<path d="M1442.1 271.1 L1448.2 272.0 L1454.1 273.2 L1460.0 274.5 L1466.0 275.7 L1471.9 276.9 L1477.8 278.2 L1483.7 279.4 L1489.6 280.8 L1495.5 282.3 L1501.4 283.9 L1507.3 285.5 L1513.2 287.0 L1519.1 288.6 L1524.9 290.2 L1530.8 291.7 L1536.7 293.3 L1542.6 294.8 L1548.5 296.3 L1554.4 297.8 L1560.3 299.3 L1564.8 300.1"/>
<path d="M1628.7 293.2 L1630.3 287.4 L1632.0 281.6 L1634.9 276.4 L1637.9 271.1 L1640.8 265.9 L1643.8 260.6 L1647.6 255.8 L1651.8 251.0 L1656.0 246.3 L1660.1 241.6 L1664.3 236.9 L1668.6 232.6 L1673.0 228.2 L1677.3 223.9 L1681.6 219.6 L1686.0 215.2 L1690.4 211.0 L1695.1 206.8 L1699.8 202.6 L1704.5 198.5 L1709.2 194.3 L1712.7 191.2"/>
<path d="M1761.2 151.7 L1765.4 147.3 L1768.8 142.0 L1772.3 136.8 L1775.7 131.6 L1779.1 126.3 L1784.5 124.5 L1790.5 123.8 L1796.4 123.1 L1802.4 122.4 L1808.4 121.7 L1814.3 121.0 L1820.3 120.3 L1826.1 118.6 L1831.7 115.8 L1837.4 113.0 L1843.0 110.2 L1848.6 107.4 L1853.5 103.6 L1858.1 99.5 L1862.7 95.4 L1865.4 90.3 L1866.3 84.2 L1867.1 78.1 L1868.0 72.0"/>
<path d="M1887.0 125.0 L1892.6 122.0 L1898.1 119.1 L1903.7 116.1 L1909.2 113.2 L1912.0 114.8 L1912.0 121.0 L1912.0 127.2 L1912.0 133.4 L1912.0 138.0"/>
<path d="M1128.0 433.3 L1134.0 434.5 L1139.9 435.7 L1145.9 436.8 L1151.8 438.0 L1157.5 440.4 L1163.0 443.2 L1168.6 446.0 L1171.4 447.3"/>
<path d="M1232.0 465.4 L1237.9 465.1 L1243.8 463.2 L1249.6 461.4 L1255.4 459.6 L1261.2 457.8 L1267.1 455.9 L1272.9 454.0 L1278.6 452.1 L1284.3 450.2 L1290.0 448.3 L1295.7 446.4 L1301.4 444.5 L1307.1 442.6 L1312.9 440.7 L1318.6 438.8 L1324.4 437.4 L1330.4 436.1 L1336.3 434.9 L1342.2 433.7 L1348.1 432.5 L1354.1 431.2 L1360.0 430.0 L1361.4 429.5"/>
<path d="M1420.4 407.9 L1426.2 405.7 L1431.9 403.8 L1437.6 401.9 L1443.3 400.0 L1449.0 398.1 L1454.6 395.9 L1460.0 392.8 L1465.3 389.7 L1470.6 386.6 L1475.7 382.9 L1480.5 378.6 L1485.2 374.3 L1490.0 370.0 L1495.6 366.7 L1501.1 363.3 L1506.7 360.0 L1501.9 356.2 L1497.2 352.4 L1492.4 348.6 L1487.1 345.2 L1485.7 344.5"/>
<path d="M1490.0 318.3 L1495.8 320.0 L1501.7 321.6 L1507.5 323.3 L1513.3 325.0 L1519.2 323.5 L1525.2 322.0 L1531.1 320.5 L1537.0 319.0 L1543.0 318.6 L1549.0 319.3 L1555.0 320.0 L1561.0 320.7 L1567.0 321.4 L1573.0 321.9 L1579.0 322.2 L1585.0 322.5 L1591.0 322.8 L1597.0 323.1 L1602.9 322.2 L1608.7 320.0 L1614.5 317.8 L1620.3 315.6 L1621.7 315.0"/>
<path d="M1661.1 267.0 L1665.3 262.3 L1669.5 257.6 L1673.7 252.8 L1677.7 248.1 L1681.2 243.1 L1684.6 238.1 L1688.1 233.2 L1691.6 228.2 L1695.3 223.4 L1699.7 219.0 L1704.1 214.6 L1708.5 210.1 L1712.9 205.7 L1718.0 202.4 L1723.3 199.4 L1728.6 196.4 L1733.9 193.4 L1739.5 191.2 L1745.1 189.1 L1750.7 186.9 L1756.3 184.7 L1757.7 184.2"/>
<path d="M1816.3 161.2 L1821.9 158.9 L1827.9 157.6 L1833.9 156.7 L1840.0 155.8 L1846.1 154.9 L1852.1 154.0 L1858.2 153.3 L1864.4 153.5 L1870.5 153.7 L1876.7 153.9 L1882.8 154.1 L1889.0 154.3 L1895.1 154.5 L1901.2 154.7 L1907.4 154.9 L1912.0 155.0"/>
<path d="M1186.7 491.7 L1192.8 493.1 L1198.8 494.5 L1204.9 495.8 L1210.9 497.2 L1217.0 498.6 L1223.0 499.4 L1229.1 499.5 L1235.1 499.6 L1241.2 499.7 L1247.2 499.9 L1253.3 500.0 L1259.2 498.5 L1265.2 497.0 L1271.1 495.5 L1277.0 494.0 L1283.0 492.4 L1288.9 490.5 L1294.8 488.7 L1300.8 486.8 L1306.7 485.0 L1311.2 484.8"/>
<path d="M1374.3 482.8 L1380.3 482.7 L1386.2 481.7 L1392.1 479.7 L1398.0 477.6 L1403.9 475.6 L1409.7 473.6 L1415.6 471.5 L1421.4 469.4 L1426.9 466.9 L1432.5 464.4 L1438.0 461.9 L1443.6 459.4 L1449.1 456.9 L1454.7 454.4 L1460.4 452.0 L1466.2 449.7 L1471.9 447.3 L1478.0 446.7 L1484.2 446.7 L1490.5 446.7 L1496.7 446.7 L1499.5 443.1"/>
<path d="M1515.2 396.9 L1519.8 392.8 L1524.4 388.7 L1528.7 384.4 L1532.8 379.7 L1536.8 375.1 L1540.9 370.4 L1544.9 365.8 L1549.0 361.2 L1552.8 356.3 L1556.5 351.4 L1560.2 346.6 L1563.9 341.7 L1568.3 337.9 L1574.5 337.7 L1580.8 337.5 L1587.0 337.3 L1593.2 337.1 L1599.4 336.6 L1602.4 336.4"/>
<path d="M1653.6 298.6 L1658.1 294.3 L1662.8 290.5 L1667.4 286.7 L1672.1 282.8 L1676.8 279.0 L1681.0 274.3 L1685.1 269.7 L1689.3 265.0 L1693.5 260.3 L1697.5 255.6 L1700.9 250.6 L1704.4 245.6 L1707.9 240.7 L1711.4 235.7 L1715.2 231.1 L1720.2 227.5 L1725.2 224.0 L1730.2 220.4 L1736.0 218.1 L1742.1 216.2 L1748.2 214.3 L1752.7 212.9"/>
<path d="M1814.1 196.4 L1820.0 195.0 L1825.9 193.7 L1831.7 192.3 L1837.6 191.0 L1843.5 189.7 L1849.4 188.4 L1855.2 187.0 L1861.2 185.8 L1867.2 184.5 L1873.1 183.2 L1879.1 182.0 L1885.1 180.7 L1891.1 179.4 L1897.1 178.2 L1903.0 176.9 L1909.0 175.6 L1912.0 175.0"/>
<path d="M1128.0 533.3 L1133.5 530.4 L1139.0 527.5 L1144.5 524.6 L1150.0 521.7 L1156.2 520.4 L1162.4 519.0 L1168.6 517.7 L1174.8 517.2 L1180.6 519.3 L1186.5 521.4 L1192.3 523.4 L1198.1 525.7 L1203.8 528.6 L1209.6 531.4 L1215.3 534.3 L1221.3 535.4"/>
<path d="M1285.4 535.4 L1291.5 534.7 L1297.5 533.3 L1303.4 531.9 L1309.4 530.5 L1315.4 529.1 L1321.4 527.8 L1327.3 526.4 L1333.3 525.0 L1339.3 524.8 L1345.4 524.6 L1351.4 524.3 L1357.4 524.1 L1363.4 523.9 L1369.5 523.7 L1375.5 523.5 L1381.5 523.0 L1387.5 522.0 L1393.5 521.0 L1399.5 520.0 L1405.5 519.0 L1411.5 518.0 L1417.4 516.6"/>
<path d="M1477.5 498.8 L1483.3 496.7 L1488.3 492.9 L1493.3 489.2 L1498.3 485.4 L1503.3 481.7 L1509.2 479.2 L1515.0 476.7 L1519.8 472.5 L1524.5 468.4 L1529.2 464.2 L1534.0 460.0 L1536.6 454.4 L1539.1 448.9 L1541.7 443.3 L1543.8 437.5 L1545.8 431.6 L1547.9 425.8 L1550.0 420.0 L1554.4 415.6 L1558.9 411.1 L1563.3 406.7 L1565.4 404.6"/>
<path d="M1608.2 358.0 L1614.4 357.0 L1620.6 356.0 L1626.8 355.0 L1633.0 354.0 L1638.5 351.5 L1643.8 348.5 L1649.1 345.5 L1654.4 342.5 L1659.8 339.3 L1665.2 336.2 L1670.2 332.4 L1673.8 327.0 L1677.5 321.6 L1681.3 316.4 L1685.2 311.5 L1689.2 306.5 L1694.1 302.8 L1699.1 299.0 L1704.0 295.3 L1707.9 290.5 L1711.8 285.7"/>
<path d="M1751.0 236.8 L1755.4 233.0 L1761.7 232.1 L1768.0 231.2 L1774.2 230.4 L1780.3 229.9 L1786.4 229.4 L1792.4 228.9 L1798.5 228.3 L1804.4 227.3 L1810.4 226.1 L1816.3 224.9 L1822.2 223.6 L1828.1 222.4 L1834.1 221.2 L1840.0 220.0 L1846.1 219.1 L1852.1 218.2 L1858.2 217.3 L1864.2 216.4 L1870.3 215.5 L1871.8 215.2"/>
<path d="M1128.0 563.3 L1134.0 562.1 L1140.0 560.9 L1146.0 559.7 L1152.0 558.6 L1158.0 557.4 L1164.0 556.2 L1170.0 555.0 L1175.9 556.8 L1181.9 558.7 L1187.8 560.5 L1193.7 562.4 L1199.6 564.5 L1205.3 566.9 L1211.0 569.3 L1216.7 571.7"/>
<path d="M1280.3 578.1 L1286.2 579.1 L1292.1 580.7 L1298.0 582.3 L1303.9 583.9 L1309.7 585.5 L1315.6 587.1 L1321.5 588.2 L1327.6 587.9 L1333.6 587.6 L1339.7 587.4 L1345.7 587.1 L1351.8 586.8 L1357.7 585.0 L1363.5 582.6 L1369.3 580.3 L1375.1 578.0 L1380.9 575.6 L1386.7 573.3 L1392.7 570.9 L1398.8 568.5 L1404.8 566.3 L1406.3 565.9"/>
<path d="M1467.4 548.6 L1473.3 546.7 L1478.8 543.5 L1484.3 540.4 L1489.8 537.2 L1495.3 534.1 L1499.7 529.8 L1503.8 525.2 L1507.8 520.6 L1511.9 516.0 L1515.9 511.3 L1520.0 506.7 L1523.0 501.2 L1526.0 495.8 L1529.0 490.3 L1532.0 484.9 L1534.9 479.5 L1537.8 474.1 L1541.0 468.8 L1544.8 464.0 L1548.5 459.3 L1552.3 454.5 L1557.3 450.9 L1558.6 450.1"/>
<path d="M1609.0 411.0 L1613.3 406.7 L1619.3 405.1 L1625.3 403.5 L1631.3 401.9 L1637.2 400.2 L1643.2 398.6 L1649.2 397.0 L1655.2 395.4 L1661.1 393.7 L1667.1 392.0 L1673.0 390.2 L1678.9 388.5 L1684.8 386.8 L1690.8 385.0 L1696.7 383.3 L1702.4 380.8 L1708.1 378.2 L1713.8 375.7 L1719.6 373.2 L1725.3 370.6 L1730.4 367.2"/>
<path d="M1761.6 321.6 L1757.4 316.1 L1754.5 310.4 L1751.7 304.7 L1748.8 299.0 L1747.3 292.8 L1745.8 286.7 L1744.3 280.5 L1746.9 275.3 L1750.8 270.4 L1755.3 266.4 L1761.2 265.0 L1767.1 263.7 L1773.0 262.4 L1779.0 262.3 L1785.0 263.6 L1791.0 264.8 L1797.0 266.1 L1803.1 267.2 L1809.2 268.2 L1815.4 269.2 L1818.5 269.7"/>
<path d="M1881.1 261.8 L1887.0 260.6 L1892.3 257.9 L1896.9 253.7 L1901.6 249.5 L1906.2 245.3 L1910.8 241.1 L1912.0 240.0"/>
<path d="M1181.1 595.7 L1186.7 593.3 L1192.8 593.6 L1198.8 593.9 L1204.9 594.2 L1210.9 594.5 L1217.0 594.8 L1223.0 595.2 L1229.1 595.5 L1235.1 595.8 L1241.2 596.1 L1247.2 596.4 L1253.3 596.7 L1259.0 599.6 L1264.7 602.4 L1270.4 605.3 L1275.8 608.4 L1280.7 611.9 L1285.6 615.4 L1290.5 618.9 L1295.5 622.4 L1300.9 625.0 L1303.7 626.2"/>
<path d="M1363.9 643.9 L1370.0 645.0 L1376.3 645.0 L1382.6 645.0 L1388.8 645.0 L1395.1 645.0 L1401.0 643.3 L1406.7 641.1 L1412.4 638.9 L1418.1 636.6 L1423.8 634.4 L1429.4 631.6 L1434.7 628.3 L1440.0 625.0 L1445.3 621.7 L1450.6 618.4 L1455.5 614.5 L1460.0 610.0 L1464.4 605.6 L1468.9 601.1 L1473.3 596.7 L1477.3 592.0 L1479.2 589.7"/>
<path d="M1520.4 540.2 L1524.5 535.7 L1529.1 531.6 L1533.7 527.5 L1538.4 523.5 L1543.0 519.4 L1547.7 515.3 L1552.0 511.0 L1556.0 506.3 L1560.0 501.6 L1564.0 497.0 L1568.0 492.3 L1572.3 488.0 L1577.0 484.0 L1581.7 480.0 L1586.3 476.0 L1591.0 472.0 L1595.5 468.0 L1600.0 463.9 L1604.4 459.8 L1608.9 455.8 L1613.3 451.7 L1616.2 450.7"/>
<path d="M1677.4 430.2 L1683.3 428.3 L1689.2 426.4 L1695.0 424.6 L1700.9 422.7 L1706.8 420.9 L1712.7 419.0 L1718.5 417.2 L1724.2 414.8 L1729.9 412.2 L1735.5 409.6 L1741.2 407.1 L1746.8 404.5 L1752.5 401.9 L1758.1 399.3 L1763.7 396.5 L1769.3 393.7 L1774.9 390.9 L1780.5 388.1 L1784.8 383.7 L1787.8 377.8 L1791.0 372.2"/>
<path d="M1834.4 327.1 L1839.4 323.4 L1844.7 320.3 L1850.0 317.2 L1855.4 314.1 L1861.0 312.0 L1866.8 310.3 L1872.6 308.5 L1878.4 306.8 L1884.2 305.0 L1890.0 303.3 L1895.9 301.1 L1901.7 298.9 L1907.6 296.7 L1912.0 295.0"/>
<path d="M1784.5 445.8 L1778.3 445.6 L1772.1 445.5 L1765.9 445.3 L1759.7 445.2 L1753.5 445.0 L1748.1 447.3 L1742.9 450.3 L1737.7 453.4 L1732.5 456.4 L1727.3 459.5 L1723.6 464.5 L1719.8 469.4 L1716.1 474.4 L1712.4 479.4 L1708.3 484.4 L1704.1 489.3 L1700.0 494.3 L1693.8 495.6 L1687.6 497.0 L1681.7 498.9"/>
<path d="M1630.0 537.0 L1626.0 542.3 L1626.1 547.3 L1630.3 552.0 L1634.5 556.7 L1639.4 560.2 L1645.0 562.7 L1650.6 565.2 L1656.2 567.7 L1661.8 570.2 L1667.6 570.9 L1673.7 569.8 L1679.7 568.7 L1685.7 567.6 L1691.8 566.6 L1697.8 565.5 L1703.8 564.4 L1709.9 563.3 L1715.9 562.3 L1721.7 559.9 L1727.4 557.0 L1733.1 554.2 L1738.9 551.5 L1744.7 549.0 L1749.9 545.8"/>
<path d="M1804.1 512.2 L1809.3 509.0 L1814.8 506.3 L1820.3 503.6 L1825.8 500.9 L1831.3 498.2 L1836.7 495.1 L1842.0 491.8 L1847.3 488.5 L1852.7 485.1 L1856.7 480.2 L1860.4 474.8 L1864.0 469.4 L1864.3 463.0 L1864.6 456.6 L1864.9 450.2 L1863.7 444.0 L1861.0 437.9 L1857.3 433.0 L1852.3 431.8"/>
<path d="M1790.5 444.8 L1784.5 445.8"/>
<path d="M1782.0 468.0 L1776.8 471.0 L1771.6 474.1 L1766.4 477.1 L1761.2 480.2 L1756.0 483.2 L1751.4 487.9 L1747.0 493.0 L1752.0 497.4 L1757.0 501.7 L1763.2 502.6 L1769.5 503.6 L1775.8 504.6 L1782.0 505.5 L1787.8 503.3 L1793.6 501.2 L1799.4 499.0 L1805.2 496.6 L1811.0 494.3 L1816.8 491.9 L1822.6 489.6 L1828.1 486.7 L1833.5 483.7 L1838.9 480.6 L1844.3 477.6 L1849.7 474.5 L1855.1 471.5 L1858.4 466.1 L1855.2 460.8"/>
<path d="M1792.5 466.8 L1786.5 467.5 L1782.0 468.0"/>
<path d="M1180.3 655.6 L1186.4 655.4 L1192.7 656.3 L1198.9 657.2 L1205.1 658.1 L1211.1 660.2 L1216.9 662.7 L1222.7 665.2 L1228.5 667.7 L1233.7 671.2 L1238.6 675.1 L1243.5 679.0 L1248.4 682.8 L1253.3 686.7 L1256.2 692.4 L1259.0 698.1 L1261.9 703.8 L1262.9 709.8 L1262.1 716.1 L1261.4 722.3 L1260.6 728.6 L1259.3 734.7 L1257.9 737.6"/>
<path d="M1208.2 773.6 L1203.3 770.0 L1197.3 769.0 L1191.3 768.0 L1185.3 767.0 L1179.3 766.0 L1173.3 765.0 L1167.4 766.8 L1161.5 768.7 L1155.6 770.5 L1149.7 772.4 L1144.8 775.7 L1141.1 780.4 L1137.3 785.1 L1133.6 789.9 L1129.9 794.6 L1128.0 797.0"/>
<path d="M1128.0 686.7 L1133.3 683.8 L1138.7 681.0"/>
<path d="M1142.7 678.8 L1148.2 676.5 L1154.3 675.7 L1160.4 674.8 L1166.5 674.0 L1172.6 673.2 L1178.7 672.3 L1184.6 672.5 L1189.7 675.9"/>
<path d="M1231.0 721.2 L1231.7 727.4 L1232.5 733.7 L1233.3 740.0 L1232.1 746.1 L1231.8 747.6"/>
<path d="M1216.7 763.3 L1212.8 758.6 L1208.8 753.9 L1204.9 749.2 L1201.0 744.5 L1195.4 743.1 L1189.4 742.9 L1183.3 742.7 L1181.8 743.0"/>
<path d="M1128.0 703.3 L1131.7 698.2 L1135.4 693.1 L1139.1 688.0"/>
<path d="M1196.1 694.5 L1201.9 696.3 L1205.5 701.1 L1208.5 707.0 L1208.0 712.3 L1204.0 717.0 L1200.0 721.7 L1193.8 723.2 L1187.7 724.8 L1181.5 726.3 L1175.8 728.3 L1170.2 730.4 L1164.5 732.5 L1158.9 734.6 L1153.3 736.7 L1147.3 735.5 L1141.2 734.2 L1136.0 731.8 L1133.0 725.9 L1130.0 720.0 L1128.0 715.0"/>
<path d="M1146.7 705.0 L1152.9 703.5 L1159.1 702.0 L1165.3 700.4 L1171.6 699.5 L1177.9 700.5 L1184.1 701.4 L1190.4 702.4 L1196.7 703.3 L1190.8 704.8 L1184.8 706.3 L1178.9 707.8 L1173.0 709.3 L1166.9 709.3 L1160.7 708.0 L1154.5 706.7 L1148.3 705.3 L1146.7 705.0"/>
<path d="M1226.7 745.0 L1228.6 749.4"/>
<path d="M1222.3 758.2 L1223.6 752.3 L1226.1 746.5 L1226.7 745.0"/>
<path d="M1198.0 856.0 L1201.4 851.0 L1204.8 845.9 L1208.2 840.9 L1211.6 835.8 L1214.9 830.7"/>
<path d="M1245.9 774.9 L1248.6 769.5 L1251.3 764.1 L1253.8 758.6 L1255.9 753.0 L1258.0 747.4 L1259.6 743.1"/>
<path d="M1260.7 740.3 L1262.8 734.7 L1263.8 728.8 L1264.4 722.7 L1265.0 716.6 L1265.6 710.6 L1266.2 704.5 L1266.3 698.5 L1264.8 692.6 L1263.3 686.6 L1261.9 680.7 L1260.4 674.8 L1258.1 669.1 L1255.5 663.4 L1254.3 660.6"/>
<path d="M1309.0 671.6 L1314.5 674.3 L1319.2 678.2 L1323.9 682.1 L1328.6 686.1 L1333.3 690.0 L1336.6 695.3 L1340.0 700.7 L1343.3 706.0 L1346.7 711.4 L1350.0 716.7 L1350.0 723.4 L1350.0 730.0 L1345.2 733.8 L1340.5 737.6 L1335.7 741.4 L1330.9 745.3 L1326.2 749.2 L1321.5 753.1 L1316.8 757.1 L1312.6 761.4 L1310.5 765.5"/>
<path d="M1288.7 825.2 L1291.5 830.3 L1295.8 835.0 L1300.1 839.7 L1304.8 843.7 L1310.9 845.2 L1317.0 846.7 L1323.0 848.3 L1329.1 849.8 L1335.2 851.3 L1341.2 851.0 L1347.2 850.0 L1353.2 849.0 L1359.2 848.0 L1365.2 847.0 L1371.1 845.0 L1377.0 842.8 L1383.0 840.6 L1388.9 838.4 L1394.0 835.3 L1396.9 829.6"/>
<path d="M1391.9 767.4 L1390.4 761.5 L1389.5 755.4 L1388.9 749.4 L1388.3 743.3 L1389.8 737.4 L1391.3 731.5 L1394.5 726.2 L1398.3 721.2 L1402.0 716.2 L1405.8 711.2 L1409.7 706.5 L1413.8 701.9 L1417.8 697.2 L1421.9 692.6 L1425.9 687.9 L1430.0 683.3 L1434.7 679.3 L1439.3 675.3 L1444.0 671.3 L1448.6 667.3 L1453.3 663.3 L1457.9 659.2 L1459.1 658.2"/>
<path d="M1503.0 611.5 L1506.7 606.7 L1511.5 602.4 L1516.4 598.2 L1521.5 594.7 L1527.4 593.6 L1533.3 592.5 L1539.3 591.4 L1545.2 590.3 L1551.3 591.2 L1557.5 592.7 L1563.6 594.2 L1569.4 596.7 L1574.7 600.0 L1580.0 603.4 L1585.3 606.7 L1590.6 610.0 L1596.4 611.7 L1602.7 611.7 L1608.9 611.7 L1615.1 611.7 L1619.7 611.0"/>
<path d="M1680.8 595.0 L1686.7 593.3 L1692.4 591.4 L1698.1 589.5 L1703.8 587.6 L1709.5 585.3 L1715.1 582.5 L1720.7 579.6 L1726.3 576.8 L1731.9 574.0 L1737.0 570.7 L1741.9 567.2 L1746.8 563.7 L1751.8 560.2 L1756.7 556.7 L1762.3 554.2 L1767.9 551.8 L1773.5 549.3 L1779.1 546.8 L1784.6 544.1 L1790.0 540.4 L1795.4 536.8 L1800.7 533.2 L1802.0 532.5"/>
<path d="M1854.3 497.3 L1859.1 493.6 L1862.9 489.0 L1864.3 486.3"/>
<path d="M1868.4 478.0 L1871.1 472.5 L1873.9 467.0 L1876.3 461.1 L1878.6 455.2 L1881.0 449.4 L1883.3 443.5 L1883.2 437.5 L1882.2 431.6 L1881.7 428.6"/>
<path d="M1877.9 411.2 L1873.8 406.7 L1869.7 402.2 L1865.7 397.6 L1861.6 393.1 L1857.5 388.6 L1855.9 382.8 L1855.2 376.6 L1856.0 370.5 L1857.3 364.5 L1859.7 359.5 L1865.5 357.7 L1871.3 355.9 L1877.0 354.1 L1882.8 352.3 L1888.6 350.5 L1894.4 348.6 L1900.3 346.7 L1906.1 344.9 L1912.0 343.0"/>
<path d="M1430.0 856.0 L1434.4 851.7 L1438.9 847.4 L1443.3 843.0 L1447.8 838.7 L1452.2 834.4 L1457.5 831.4"/>
<path d="M1518.0 810.7 L1522.1 808.3 L1520.5 802.5 L1518.8 796.7 L1515.0 794.6 L1509.0 796.2 L1503.0 797.8 L1497.0 799.3 L1491.0 800.9 L1486.5 799.1 L1483.5 793.8 L1480.5 788.4 L1476.6 784.0 L1471.8 780.3 L1467.0 776.6 L1462.2 772.9 L1458.5 768.0 L1455.0 762.7 L1451.6 757.3 L1450.8 751.2 L1450.8 744.8 L1451.3 738.5 L1452.2 735.6"/>
<path d="M1474.5 675.7 L1479.2 671.7 L1483.8 667.7 L1488.5 663.7 L1493.2 659.7 L1497.7 655.5 L1501.5 650.7 L1505.2 646.0 L1509.0 641.2 L1512.1 635.7 L1515.0 630.0 L1519.4 634.4 L1523.9 638.9 L1527.8 643.6 L1531.5 648.4 L1535.2 653.3 L1538.9 658.1 L1542.4 663.1 L1545.8 668.2 L1549.3 673.3 L1552.7 678.4 L1557.3 681.7"/>
<path d="M1603.4 677.3 L1608.7 674.1 L1612.2 669.1 L1615.2 663.5 L1618.2 657.9 L1621.7 652.6 L1626.6 648.4 L1631.5 644.2 L1636.4 640.0 L1641.8 637.3 L1647.2 634.7 L1652.6 632.0 L1658.1 629.4 L1663.9 627.2 L1669.7 624.9 L1675.5 622.7 L1681.3 620.4 L1687.1 618.1 L1692.7 615.6 L1698.2 612.8 L1703.6 610.0 L1709.1 607.3 L1714.5 604.5 L1717.3 603.1"/>
<path d="M1766.7 563.3 L1772.3 559.9 L1777.8 556.5 L1783.4 553.3 L1788.8 550.6 L1794.2 547.9 L1799.6 545.1 L1805.0 542.4 L1807.7 541.0"/>
<path d="M1816.1 537.1 L1821.8 534.6 L1827.5 532.1 L1833.3 529.5 L1839.0 527.0 L1843.7 522.8 L1848.4 518.5 L1853.1 514.3 L1857.8 510.1 L1861.1 504.8 L1864.0 499.1 L1866.9 493.5 L1868.3 490.7"/>
<path d="M1462.0 856.0 L1467.2 852.9 L1472.4 849.8 L1477.6 846.7 L1482.8 843.6 L1488.0 840.5 L1493.5 837.8 L1499.1 835.0 L1504.6 832.3 L1510.2 829.5 L1515.7 826.8 L1520.8 823.5 L1525.9 820.1 L1531.0 816.8 L1536.2 813.5 L1540.3 809.4 L1541.6 803.2"/>
<path d="M1529.0 758.5 L1528.3 752.5 L1527.5 746.5 L1527.2 743.5"/>
<path d="M1582.9 753.5 L1589.0 753.2 L1595.0 751.6 L1600.8 749.2 L1606.7 746.7 L1610.9 741.9 L1615.2 737.0 L1619.4 732.2 L1621.9 726.7 L1623.9 721.0 L1625.8 715.3 L1627.7 709.5 L1629.6 703.8 L1631.9 698.1 L1634.2 692.4 L1636.4 686.7 L1638.7 681.0 L1642.8 676.3 L1646.9 671.5 L1651.2 667.0 L1656.0 662.8 L1660.7 658.5 L1665.5 654.3 L1666.7 653.3"/>
<path d="M1717.4 617.7 L1722.6 614.3 L1727.8 611.0 L1733.0 607.7 L1738.3 604.4 L1743.5 601.1 L1748.7 597.8 L1753.5 594.0 L1758.1 590.0 L1762.7 586.0 L1767.3 582.0 L1772.3 578.5 L1777.7 575.6 L1783.1 572.7 L1788.6 569.8 L1794.0 566.9 L1799.4 564.0 L1804.9 561.6 L1810.5 559.2 L1816.0 556.8 L1821.5 554.4 L1827.1 552.0 L1831.2 550.2"/>
<path d="M1877.0 508.2 L1880.9 503.4 L1884.9 498.7 L1888.8 494.0 L1894.6 491.9 L1900.4 489.8 L1906.2 487.7 L1912.0 485.6"/>
<path d="M1515.7 707.0 L1511.1 711.2 L1506.6 715.4 L1502.0 719.5 L1497.4 723.7 L1492.9 727.9 L1490.9 733.0 L1491.4 739.0 L1491.9 745.0 L1492.4 751.0 L1492.9 757.0 L1498.6 759.6 L1504.3 762.3 L1510.0 765.0 L1515.7 767.6 L1522.2 765.5 L1527.0 764.0"/>
<path d="M1527.6 759.5 L1528.5 753.5 L1529.3 747.5 L1529.7 744.5"/>
<path d="M1530.8 729.7 L1527.4 724.7 L1524.1 719.6 L1520.7 714.6 L1517.4 709.5 L1515.7 707.0"/>
<path d="M1520.0 856.0 L1523.6 850.7 L1524.5 849.4"/>
<path d="M1565.3 800.7 L1569.4 796.4 L1574.9 793.9 L1580.5 791.5 L1586.1 789.1 L1591.6 786.6 L1597.6 784.8 L1603.7 783.3 L1609.8 781.7 L1615.9 780.2 L1621.8 778.1 L1627.0 774.6 L1632.2 771.2 L1637.4 767.7 L1642.6 764.2 L1647.8 760.7 L1649.2 754.8 L1650.5 748.8 L1651.9 742.9 L1653.2 736.9 L1654.6 731.0 L1655.7 724.8 L1656.8 718.5"/>
<path d="M1706.5 634.5 L1711.6 631.3 L1716.7 628.0 L1721.7 624.8 L1726.9 621.4 L1732.0 618.0 L1737.1 614.6 L1742.3 611.1 L1747.4 607.7 L1752.7 604.5 L1758.0 601.5 L1763.3 598.5 L1768.7 595.5 L1774.0 592.5 L1779.7 589.8 L1785.6 587.4 L1788.5 586.1"/>
<path d="M1845.3 558.1 L1850.5 555.1 L1855.7 552.1 L1861.0 549.1 L1866.2 546.0 L1871.4 543.0 L1876.3 539.5 L1880.8 535.4 L1885.3 531.3 L1889.8 527.2 L1894.3 523.1 L1898.8 519.0 L1903.2 514.9 L1907.6 510.8 L1912.0 506.7"/>
<path d="M1594.0 816.3 L1600.0 816.5 L1606.0 818.1 L1612.1 819.6 L1618.3 820.0 L1624.5 820.0 L1630.7 820.0 L1636.9 820.0 L1643.1 820.0 L1649.1 819.1 L1654.1 815.6 L1659.2 812.0 L1664.3 808.4 L1669.3 804.9 L1673.1 800.2 L1676.5 795.0 L1679.8 789.9 L1683.2 784.8 L1684.8 778.9 L1685.9 772.6 L1686.4 766.5 L1686.1 765.0"/>
<path d="M1677.9 703.1 L1679.1 697.3 L1682.0 691.8 L1684.9 686.3 L1687.8 680.8 L1691.2 675.8 L1696.1 672.3 L1701.0 668.8 L1705.9 665.3 L1710.8 661.8 L1716.0 658.4 L1721.3 655.2 L1726.7 652.0 L1732.0 648.8 L1737.3 645.6 L1742.7 642.4 L1748.2 639.5 L1754.0 637.3 L1759.9 635.2 L1765.7 633.1 L1771.6 631.0 L1777.4 628.8 L1783.3 626.7 L1787.1 624.2"/>
<path d="M1846.5 601.3 L1852.4 603.2 L1858.3 605.2 L1864.2 607.1 L1870.1 609.1 L1876.0 611.0 L1882.0 611.3 L1888.0 611.7 L1894.0 612.0 L1900.0 612.3 L1906.0 612.7 L1912.0 613.0"/>
<path d="M1770.9 840.5 L1767.9 835.0 L1764.8 829.5 L1762.4 823.8 L1760.5 818.1 L1758.6 812.4 L1756.7 806.7 L1755.2 800.8 L1753.7 794.8 L1752.2 788.9 L1750.7 783.0 L1748.4 777.3 L1745.3 771.8 L1742.2 766.3 L1739.0 760.8 L1735.5 755.7 L1730.8 751.7 L1726.2 747.7 L1721.5 743.7 L1718.0 740.7"/>
<path d="M1742.2 690.9 L1746.7 686.7 L1752.6 684.8 L1758.5 683.0 L1764.4 681.1 L1770.3 679.2 L1776.3 678.1 L1782.3 677.8 L1788.3 677.5 L1794.3 677.2 L1800.3 676.9 L1806.1 678.1 L1811.7 680.9 L1817.4 683.7 L1823.0 686.5 L1828.6 689.3 L1833.3 693.3 L1837.8 697.8 L1842.2 702.2 L1846.6 706.6 L1851.1 711.1 L1855.4 715.4 L1857.6 717.6"/>
<path d="M1908.0 754.9 L1912.0 757.0"/>
<path d="M1811.0 856.0 L1815.6 851.7 L1820.1 847.4 L1824.7 843.1 L1829.3 838.8 L1834.3 834.9 L1839.4 831.3 L1844.6 827.6 L1849.7 823.9 L1855.7 821.9 L1861.7 819.9 L1863.2 819.4"/>
</g>
</g>
<g font-family="'Liberation Sans',Arial,sans-serif" font-size="21.5" fill="#1c1c1c" fill-opacity="0.9" text-anchor="middle">
<text x="1308.0" y="93.0" dy="7.6" transform="rotate(8 1308.0 93.0)">-600</text>
<text x="1240.0" y="152.0" dy="7.6" transform="rotate(-35 1240.0 152.0)">-800</text>
<text x="1411.7" y="146.7" dy="7.6" transform="rotate(-35 1411.7 146.7)">-800</text>
<text x="1563.3" y="151.7" dy="7.6" transform="rotate(-30 1563.3 151.7)">-800</text>
<text x="1736.7" y="103.3" dy="7.6" transform="rotate(-20 1736.7 103.3)">-800</text>
<text x="1166.7" y="191.7" dy="7.6" transform="rotate(0 1166.7 191.7)">-1000</text>
<text x="1343.3" y="211.7" dy="7.6" transform="rotate(-35 1343.3 211.7)">-1000</text>
<text x="1515.0" y="235.0" dy="7.6" transform="rotate(30 1515.0 235.0)">-1000</text>
<text x="1678.3" y="190.0" dy="7.6" transform="rotate(-45 1678.3 190.0)">-1000</text>
<text x="1831.7" y="73.3" dy="7.6" transform="rotate(-40 1831.7 73.3)">-1000</text>
<text x="1275.0" y="378.3" dy="7.6" transform="rotate(-20 1275.0 378.3)">-1200</text>
<text x="1411.7" y="264.0" dy="7.6" transform="rotate(3 1411.7 264.0)">-1200</text>
<text x="1597.0" y="305.0" dy="7.6" transform="rotate(-8 1597.0 305.0)">-1200</text>
<text x="1736.4" y="170.0" dy="7.6" transform="rotate(-40 1736.4 170.0)">-1200</text>
<text x="1200.0" y="459.3" dy="7.6" transform="rotate(20 1200.0 459.3)">-1400</text>
<text x="1391.7" y="420.7" dy="7.6" transform="rotate(-15 1391.7 420.7)">-1400</text>
<text x="1479.0" y="328.0" dy="7.6" transform="rotate(-80 1479.0 328.0)">-1400</text>
<text x="1642.0" y="291.6" dy="7.6" transform="rotate(-50 1642.0 291.6)">-1400</text>
<text x="1786.7" y="173.3" dy="7.6" transform="rotate(-25 1786.7 173.3)">-1400</text>
<text x="1155.0" y="488.3" dy="7.6" transform="rotate(3 1155.0 488.3)">-1600</text>
<text x="1342.7" y="483.3" dy="7.6" transform="rotate(-3 1342.7 483.3)">-1600</text>
<text x="1513.3" y="428.3" dy="7.6" transform="rotate(-75 1513.3 428.3)">-1600</text>
<text x="1630.8" y="321.4" dy="7.6" transform="rotate(-40 1630.8 321.4)">-1600</text>
<text x="1783.3" y="203.3" dy="7.6" transform="rotate(-15 1783.3 203.3)">-1600</text>
<text x="1253.3" y="538.3" dy="7.6" transform="rotate(3 1253.3 538.3)">-1800</text>
<text x="1448.3" y="509.3" dy="7.6" transform="rotate(-15 1448.3 509.3)">-1800</text>
<text x="1588.3" y="381.7" dy="7.6" transform="rotate(-50 1588.3 381.7)">-1800</text>
<text x="1731.4" y="261.7" dy="7.6" transform="rotate(-55 1731.4 261.7)">-1800</text>
<text x="1903.0" y="206.7" dy="7.6" transform="rotate(-20 1903.0 206.7)">-1800</text>
<text x="1170.0" y="686.7" dy="7.6" transform="rotate(-3 1170.0 686.7)">-1800</text>
<text x="1248.3" y="576.0" dy="7.6" transform="rotate(3 1248.3 576.0)">-2000</text>
<text x="1436.7" y="558.3" dy="7.6" transform="rotate(-15 1436.7 558.3)">-2000</text>
<text x="1586.7" y="433.3" dy="7.6" transform="rotate(-45 1586.7 433.3)">-2000</text>
<text x="1755.0" y="348.3" dy="7.6" transform="rotate(-55 1755.0 348.3)">-2000</text>
<text x="1850.0" y="266.7" dy="7.6" transform="rotate(-3 1850.0 266.7)">-2000</text>
<text x="1824.0" y="463.0" dy="7.6" transform="rotate(-5 1824.0 463.0)">-2000</text>
<text x="1216.7" y="693.3" dy="7.6" transform="rotate(45 1216.7 693.3)">-2000</text>
<text x="1150.0" y="750.0" dy="7.6" transform="rotate(0 1150.0 750.0)">-2000</text>
<text x="1234.0" y="759.0" dy="7.6" transform="rotate(-50 1234.0 759.0)">-2000</text>
<text x="1151.7" y="608.3" dy="7.6" transform="rotate(-30 1151.7 608.3)">-2200</text>
<text x="1333.3" y="638.3" dy="7.6" transform="rotate(15 1333.3 638.3)">-2200</text>
<text x="1500.0" y="565.0" dy="7.6" transform="rotate(-55 1500.0 565.0)">-2200</text>
<text x="1646.7" y="440.0" dy="7.6" transform="rotate(-25 1646.7 440.0)">-2200</text>
<text x="1811.7" y="348.3" dy="7.6" transform="rotate(-50 1811.7 348.3)">-2200</text>
<text x="1821.7" y="439.6" dy="7.6" transform="rotate(-15 1821.7 439.6)">-2200</text>
<text x="1655.0" y="517.0" dy="7.6" transform="rotate(-45 1655.0 517.0)">-2200</text>
<text x="1777.0" y="529.0" dy="7.6" transform="rotate(-35 1777.0 529.0)">-2200</text>
<text x="1150.0" y="661.7" dy="7.6" transform="rotate(-10 1150.0 661.7)">-2200</text>
<text x="1228.5" y="776.0" dy="7.6" transform="rotate(-55 1228.5 776.0)">-2200</text>
<text x="1231.7" y="803.3" dy="7.6" transform="rotate(-55 1231.7 803.3)">-2400</text>
<text x="1280.0" y="660.0" dy="7.6" transform="rotate(20 1280.0 660.0)">-2400</text>
<text x="1296.7" y="793.3" dy="7.6" transform="rotate(-65 1296.7 793.3)">-2400</text>
<text x="1400.0" y="798.3" dy="7.6" transform="rotate(85 1400.0 798.3)">-2400</text>
<text x="1483.3" y="636.7" dy="7.6" transform="rotate(-50 1483.3 636.7)">-2400</text>
<text x="1650.0" y="604.0" dy="7.6" transform="rotate(-20 1650.0 604.0)">-2400</text>
<text x="1829.2" y="516.6" dy="7.6" transform="rotate(-35 1829.2 516.6)">-2400</text>
<text x="1898.8" y="434.7" dy="7.6" transform="rotate(50 1898.8 434.7)">-2400</text>
<text x="1486.7" y="818.0" dy="7.6" transform="rotate(-20 1486.7 818.0)">-2600</text>
<text x="1462.0" y="705.0" dy="7.6" transform="rotate(-65 1462.0 705.0)">-2600</text>
<text x="1585.0" y="688.5" dy="7.6" transform="rotate(-5 1585.0 688.5)">-2600</text>
<text x="1741.7" y="583.0" dy="7.6" transform="rotate(-40 1741.7 583.0)">-2600</text>
<text x="1893.0" y="472.0" dy="7.6" transform="rotate(-35 1893.0 472.0)">-2600</text>
<text x="1556.7" y="749.0" dy="7.6" transform="rotate(30 1556.7 749.0)">-2800</text>
<text x="1545.0" y="786.0" dy="7.6" transform="rotate(70 1545.0 786.0)">-2800</text>
<text x="1691.7" y="635.0" dy="7.6" transform="rotate(-40 1691.7 635.0)">-2800</text>
<text x="1856.5" y="531.6" dy="7.6" transform="rotate(-45 1856.5 531.6)">-2800</text>
<text x="1546.7" y="826.7" dy="7.6" transform="rotate(-50 1546.7 826.7)">-3000</text>
<text x="1668.0" y="689.0" dy="7.6" transform="rotate(-70 1668.0 689.0)">-3000</text>
<text x="1818.0" y="573.0" dy="7.6" transform="rotate(-30 1818.0 573.0)">-3000</text>
<text x="1570.0" y="837.5" dy="7.6" transform="rotate(-50 1570.0 837.5)">-3200</text>
<text x="1680.0" y="734.0" dy="7.6" transform="rotate(85 1680.0 734.0)">-3200</text>
<text x="1813.8" y="607.0" dy="7.6" transform="rotate(-27 1813.8 607.0)">-3200</text>
<text x="1723.3" y="709.0" dy="7.6" transform="rotate(-65 1723.3 709.0)">-3400</text>
<text x="1880.0" y="740.0" dy="7.6" transform="rotate(45 1880.0 740.0)">-3400</text>
<text x="1774.0" y="852.0" dy="7.6" transform="rotate(-50 1774.0 852.0)">-3400</text>
<text x="1885.0" y="838.0" dy="7.6" transform="rotate(60 1885.0 838.0)">-3600</text>
</g>
<rect x="1128" y="72" width="784" height="784" fill="none" stroke="#262626" stroke-opacity="0.55" stroke-width="1"/>
<circle cx="1534" cy="468" r="18.5" fill="#fff" stroke="rgb(170,70,20)" stroke-width="3.5"/>
<line x1="1675.0" y1="593.3" x2="1411.2" y2="356.7" stroke="#000" stroke-width="3.7"/><polygon points="1400.0,346.7 1417.3,352.8 1408.0,363.3" fill="#000"/>
<line x1="1403.3" y1="600.0" x2="1656.2" y2="340.1" stroke="#000" stroke-width="3.7"/><polygon points="1666.7,329.3 1659.9,346.4 1649.8,336.6" fill="#000"/>
<g font-family="'Liberation Sans',Arial,sans-serif" font-weight="bold" font-size="33" text-anchor="middle" fill="#000"><text x="1411.7" y="322">Y</text><text x="1701.7" y="365">X</text></g>
<g stroke="#262626" stroke-opacity="0.7" stroke-width="1">
<line x1="1128" y1="150.2" x2="1136" y2="150.2"/>
<line x1="1912" y1="150.2" x2="1904" y2="150.2"/>
<line x1="1128" y1="229.4" x2="1136" y2="229.4"/>
<line x1="1912" y1="229.4" x2="1904" y2="229.4"/>
<line x1="1128" y1="308.6" x2="1136" y2="308.6"/>
<line x1="1912" y1="308.6" x2="1904" y2="308.6"/>
<line x1="1128" y1="387.8" x2="1136" y2="387.8"/>
<line x1="1912" y1="387.8" x2="1904" y2="387.8"/>
<line x1="1128" y1="467.0" x2="1136" y2="467.0"/>
<line x1="1912" y1="467.0" x2="1904" y2="467.0"/>
<line x1="1128" y1="546.2" x2="1136" y2="546.2"/>
<line x1="1912" y1="546.2" x2="1904" y2="546.2"/>
<line x1="1128" y1="625.4" x2="1136" y2="625.4"/>
<line x1="1912" y1="625.4" x2="1904" y2="625.4"/>
<line x1="1128" y1="704.6" x2="1136" y2="704.6"/>
<line x1="1912" y1="704.6" x2="1904" y2="704.6"/>
<line x1="1128" y1="783.8" x2="1136" y2="783.8"/>
<line x1="1912" y1="783.8" x2="1904" y2="783.8"/>
<line x1="1146.7" y1="856" x2="1146.7" y2="848"/>
<line x1="1146.7" y1="72" x2="1146.7" y2="80"/>
<line x1="1305.1" y1="856" x2="1305.1" y2="848"/>
<line x1="1305.1" y1="72" x2="1305.1" y2="80"/>
<line x1="1463.5" y1="856" x2="1463.5" y2="848"/>
<line x1="1463.5" y1="72" x2="1463.5" y2="80"/>
<line x1="1621.9" y1="856" x2="1621.9" y2="848"/>
<line x1="1621.9" y1="72" x2="1621.9" y2="80"/>
<line x1="1780.3" y1="856" x2="1780.3" y2="848"/>
<line x1="1780.3" y1="72" x2="1780.3" y2="80"/>
</g>
<g font-family="'Liberation Sans',Arial,sans-serif" font-size="31" fill="#262626">
<text x="1116.7" y="163.4" text-anchor="end">20.2</text>
<text x="1116.7" y="242.6" text-anchor="end">20.1</text>
<text x="1116.7" y="321.8" text-anchor="end">20</text>
<text x="1116.7" y="401.0" text-anchor="end">19.9</text>
<text x="1116.7" y="480.2" text-anchor="end">19.8</text>
<text x="1116.7" y="559.4" text-anchor="end">19.7</text>
<text x="1116.7" y="638.6" text-anchor="end">19.6</text>
<text x="1116.7" y="717.8" text-anchor="end">19.5</text>
<text x="1116.7" y="797.0" text-anchor="end">19.4</text>
<text x="1146.7" y="896.6" text-anchor="middle">116.4</text>
<text x="1305.1" y="896.6" text-anchor="middle">116.6</text>
<text x="1463.5" y="896.6" text-anchor="middle">116.8</text>
<text x="1621.9" y="896.6" text-anchor="middle">117</text>
<text x="1780.3" y="896.6" text-anchor="middle">117.2</text>
</g>
<text x="1103.3" y="40.5" font-family="'Liberation Sans',Arial,sans-serif" font-weight="bold" font-size="35" fill="#111" textLength="835" lengthAdjust="spacingAndGlyphs">(B) Amplified Topography and Observation Station</text>
<text x="1403.4" y="939.5" font-family="'Liberation Sans',Arial,sans-serif" font-weight="bold" font-size="32.5" fill="#262626" textLength="233.4" lengthAdjust="spacingAndGlyphs">Longitude (°E)</text>
<text transform="translate(1051 565) rotate(-90)" font-family="'Liberation Sans',Arial,sans-serif" font-weight="bold" font-size="32" fill="#262626" textLength="203.7" lengthAdjust="spacingAndGlyphs">Latitude (°N)</text>
<rect x="1926.7" y="72" width="29" height="784" fill="url(#cbB)"/>
<rect x="1926.7" y="72" width="29" height="784" fill="none" stroke="#262626" stroke-opacity="0.4" stroke-width="0.8"/>
<g font-family="'Liberation Sans',Arial,sans-serif" font-size="28" fill="#262626">
<line x1="1949" y1="164.6" x2="1955.7" y2="164.6" stroke="#262626" stroke-opacity="0.6"/>
<text x="1963.6" y="175.6">-500</text>
<line x1="1949" y1="258.0" x2="1955.7" y2="258.0" stroke="#262626" stroke-opacity="0.6"/>
<text x="1963.6" y="269.0">-1000</text>
<line x1="1949" y1="351.4" x2="1955.7" y2="351.4" stroke="#262626" stroke-opacity="0.6"/>
<text x="1963.6" y="362.4">-1500</text>
<line x1="1949" y1="444.8" x2="1955.7" y2="444.8" stroke="#262626" stroke-opacity="0.6"/>
<text x="1963.6" y="455.8">-2000</text>
<line x1="1949" y1="538.2" x2="1955.7" y2="538.2" stroke="#262626" stroke-opacity="0.6"/>
<text x="1963.6" y="549.2">-2500</text>
<line x1="1949" y1="631.6" x2="1955.7" y2="631.6" stroke="#262626" stroke-opacity="0.6"/>
<text x="1963.6" y="642.6">-3000</text>
<line x1="1949" y1="725.0" x2="1955.7" y2="725.0" stroke="#262626" stroke-opacity="0.6"/>
<text x="1963.6" y="736.0">-3500</text>
<line x1="1949" y1="818.4" x2="1955.7" y2="818.4" stroke="#262626" stroke-opacity="0.6"/>
<text x="1963.6" y="829.4">-4000</text>
</g>
<text x="2086.3" y="31.0" font-size="31" textLength="364.7" lengthAdjust="spacingAndGlyphs" font-family="'Liberation Sans',Arial,sans-serif" font-weight="bold" fill="#111">(C) Moored Station (MS)</text>
<text x="2133.5" y="84.5" font-size="27.5" textLength="290.5" lengthAdjust="spacingAndGlyphs" font-family="'Liberation Sans',Arial,sans-serif" font-weight="bold" fill="#111">116.889 °E, 19.800 °N</text>
<text x="2119.0" y="130.4" font-size="27.5" textLength="303.4" lengthAdjust="spacingAndGlyphs" font-family="'Liberation Sans',Arial,sans-serif" font-weight="bold" fill="#111">Water Depth ≈ 1895 m</text>
<text x="2060.0" y="229.8" font-size="27.5" textLength="96.8" lengthAdjust="spacingAndGlyphs" font-family="'Liberation Sans',Arial,sans-serif" font-weight="bold" fill="#111">surface</text>
<text x="2136.0" y="298.0" font-size="25.5" textLength="58.0" lengthAdjust="spacingAndGlyphs" font-family="'Liberation Sans',Arial,sans-serif" font-weight="bold" fill="#111">Float</text>
<text x="2080.7" y="350.0" font-size="25.5" textLength="118.1" lengthAdjust="spacingAndGlyphs" font-family="'Liberation Sans',Arial,sans-serif" font-weight="bold" fill="#111">75K ADCP</text>
<text x="2063.0" y="386.6" font-size="25.5" textLength="153.5" lengthAdjust="spacingAndGlyphs" font-family="'Liberation Sans',Arial,sans-serif" font-weight="bold" fill="#111">(U, V, 30min)</text>
<text x="2093.8" y="483.0" font-size="25.5" textLength="105.0" lengthAdjust="spacingAndGlyphs" font-family="'Liberation Sans',Arial,sans-serif" font-weight="bold" fill="#111">0.25 m/s</text>
<text x="2112.0" y="542.9" font-size="25.5" textLength="65.0" lengthAdjust="spacingAndGlyphs" font-family="'Liberation Sans',Arial,sans-serif" font-weight="bold" fill="#111">MMP</text>
<text x="2085.0" y="578.0" font-size="25.5" textLength="118.0" lengthAdjust="spacingAndGlyphs" font-family="'Liberation Sans',Arial,sans-serif" font-weight="bold" fill="#111">(T, S, U, V,</text>
<text x="2118.0" y="612.4" font-size="25.5" textLength="52.0" lengthAdjust="spacingAndGlyphs" font-family="'Liberation Sans',Arial,sans-serif" font-weight="bold" fill="#111">1Hz)</text>
<text x="2106.8" y="870.2" font-size="25.5" textLength="101.6" lengthAdjust="spacingAndGlyphs" font-family="'Liberation Sans',Arial,sans-serif" font-weight="bold" fill="#111">Releaser</text>
<text x="2111.5" y="920.3" font-size="25.5" textLength="84.5" lengthAdjust="spacingAndGlyphs" font-family="'Liberation Sans',Arial,sans-serif" font-weight="bold" fill="#111">Weight</text>
<text x="2406.0" y="287.3" font-size="25.5" textLength="71.6" lengthAdjust="spacingAndGlyphs" font-family="'Liberation Sans',Arial,sans-serif" font-weight="bold" fill="#111">270 m</text>
<text x="2405.3" y="392.9" font-size="25.5" textLength="70.7" lengthAdjust="spacingAndGlyphs" font-family="'Liberation Sans',Arial,sans-serif" font-weight="bold" fill="#111">125 m</text>
<text x="2411.5" y="641.3" font-size="25.5" textLength="86.5" lengthAdjust="spacingAndGlyphs" font-family="'Liberation Sans',Arial,sans-serif" font-weight="bold" fill="#111">1450 m</text>
<text x="2407.0" y="912.6" font-size="25.5" textLength="57.8" lengthAdjust="spacingAndGlyphs" font-family="'Liberation Sans',Arial,sans-serif" font-weight="bold" fill="#111">50 m</text>
<path d="M2055.0 175.5 C2058.3 174.2 2067.7 170.5 2075.0 168.0 C2082.3 165.5 2090.7 160.3 2099.0 160.5 C2107.3 160.7 2116.2 165.8 2125.0 169.0 C2133.8 172.2 2142.8 179.2 2152.0 179.5 C2161.2 179.8 2170.2 174.2 2180.0 171.0 C2189.8 167.8 2201.3 160.8 2211.0 160.5 C2220.7 160.2 2229.2 165.8 2238.0 169.0 C2246.8 172.2 2254.8 179.3 2264.0 179.5 C2273.2 179.7 2283.2 173.2 2293.0 170.0 C2302.8 166.8 2312.8 160.7 2323.0 160.5 C2333.2 160.3 2343.7 166.1 2354.0 169.0 C2364.3 171.9 2376.0 178.7 2385.0 178.0 C2394.0 177.3 2400.2 168.6 2408.0 165.0 C2415.8 161.4 2423.9 157.2 2431.7 156.5 C2439.5 155.8 2447.5 158.8 2455.0 161.0 C2462.5 163.2 2473.1 168.5 2476.7 170.0" fill="none" stroke="rgb(62,72,104)" stroke-width="2"/>
<path d="M2055.0 185.0 C2058.3 183.8 2067.7 180.0 2075.0 177.5 C2082.3 175.0 2090.7 169.8 2099.0 170.0 C2107.3 170.2 2116.2 175.3 2125.0 178.5 C2133.8 181.7 2142.8 188.7 2152.0 189.0 C2161.2 189.3 2170.2 183.7 2180.0 180.5 C2189.8 177.3 2201.3 170.3 2211.0 170.0 C2220.7 169.7 2229.2 175.3 2238.0 178.5 C2246.8 181.7 2254.8 188.8 2264.0 189.0 C2273.2 189.2 2283.2 182.7 2293.0 179.5 C2302.8 176.3 2312.8 170.2 2323.0 170.0 C2333.2 169.8 2343.7 175.6 2354.0 178.5 C2364.3 181.4 2376.0 188.2 2385.0 187.5 C2394.0 186.8 2400.2 178.1 2408.0 174.5 C2415.8 170.9 2423.9 166.7 2431.7 166.0 C2439.5 165.3 2447.5 168.2 2455.0 170.5 C2462.5 172.8 2473.1 178.0 2476.7 179.5" fill="none" stroke="rgb(62,72,104)" stroke-width="2"/>
<line x1="2248.6" y1="296" x2="2248.6" y2="840" stroke="rgb(86,134,206)" stroke-width="3.2"/>
<line x1="2248.6" y1="296" x2="2248.6" y2="840" stroke="rgb(190,212,240)" stroke-width="0.9"/>
<ellipse cx="2247.5" cy="288.2" rx="12.6" ry="9.6" fill="rgb(240,0,0)"/>
<path d="M2241.6 329 H2256.8 V366 Q2256.8 370 2252.8 370 H2245.6 Q2241.6 370 2241.6 366 Z" fill="rgb(68,114,196)"/>
<ellipse cx="2249" cy="320.8" rx="30.5" ry="4.6" fill="rgb(235,10,20)" stroke="rgb(150,60,150)" stroke-width="1"/>
<ellipse cx="2249" cy="320.8" rx="14" ry="10.5" fill="rgb(235,10,20)" stroke="rgb(120,70,160)" stroke-width="1.2"/>
<rect x="2243.5" y="316.5" width="11" height="8.6" fill="#f4f4fa" stroke="rgb(68,114,196)" stroke-width="1"/>
<line x1="2230.4" y1="400" x2="2272.4" y2="400" stroke="rgb(68,114,196)" stroke-width="2"/>
<line x1="2388" y1="196" x2="2388" y2="338" stroke="rgb(68,114,196)" stroke-width="1.8" stroke-dasharray="11 8"/>
<path d="M2381.5 202 L2388 190 L2394.5 202" fill="none" stroke="rgb(68,114,196)" stroke-width="1.8"/>
<path d="M2381 329 L2388 342 L2395 329" fill="none" stroke="rgb(68,114,196)" stroke-width="1.8"/>
<line x1="2388.6" y1="343" x2="2389.4" y2="946" stroke="rgb(68,114,196)" stroke-width="2.6"/>
<path d="M2381 357 L2388.4 344 L2396 357" fill="none" stroke="rgb(68,114,196)" stroke-width="1.8"/>
<line x1="2366.5" y1="343" x2="2407.5" y2="343" stroke="rgb(68,114,196)" stroke-width="2"/>
<line x1="2368" y1="401.6" x2="2409.3" y2="401.6" stroke="rgb(68,114,196)" stroke-width="2"/>
<line x1="2368.4" y1="863.8" x2="2409.4" y2="863.8" stroke="rgb(190,208,236)" stroke-width="1.4"/>
<path d="M2382.4 936.5 L2389.6 948 L2396.8 936.5" fill="none" stroke="rgb(68,114,196)" stroke-width="2"/>
<path d="M2250 521 V571 A16.5 4 0 0 0 2283 571 V521 Z" fill="rgb(255,192,0)" stroke="rgb(110,95,60)" stroke-width="1"/>
<ellipse cx="2266.5" cy="521" rx="16.5" ry="4" fill="rgb(255,204,40)" stroke="rgb(110,95,60)" stroke-width="1"/>
<line x1="2266.5" y1="486" x2="2266.5" y2="606" stroke="rgb(68,114,196)" stroke-width="1.8" stroke-dasharray="11 8"/>
<path d="M2260 493 L2266.5 481.5 L2273 493" fill="none" stroke="rgb(68,114,196)" stroke-width="1.8"/>
<path d="M2260 598 L2266.5 610 L2273 598" fill="none" stroke="rgb(68,114,196)" stroke-width="1.8"/>
<rect x="2242.3" y="839.5" width="12.4" height="10.5" rx="1.5" fill="rgb(58,66,86)"/>
<rect x="2244" y="850" width="9" height="29" fill="rgb(214,220,229)" stroke="rgb(68,114,196)" stroke-width="1.2"/>
<path d="M2245 879 V886 H2252.5 V879" fill="#fff" stroke="rgb(68,114,196)" stroke-width="1.2"/>
<line x1="2248.8" y1="886" x2="2248.8" y2="895" stroke="rgb(68,114,196)" stroke-width="1.6"/>
<polygon points="2221.6,904.3 2232.6,895 2276.2,895 2265.7,904.3" fill="rgb(90,130,205)"/>
<polygon points="2265.7,904.3 2276.2,895 2276.2,925.8 2265.7,935.4" fill="rgb(50,88,158)"/>
<rect x="2221.6" y="904.3" width="44.1" height="31.1" fill="rgb(68,114,196)"/>
<path d="M2073.0 954.7 C2078.3 953.4 2094.2 949.1 2105.0 947.0 C2115.8 944.9 2125.2 943.0 2137.7 942.3 C2150.2 941.6 2167.2 942.5 2180.0 942.8 C2192.8 943.1 2208.8 944.0 2214.8 944.0 C2220.8 944.0 2211.0 942.7 2216.0 942.5 C2221.0 942.3 2235.1 943.0 2245.0 943.0 C2254.9 943.0 2265.7 942.0 2275.3 942.8 C2285.0 943.6 2292.3 945.6 2302.9 947.8 C2313.5 950.0 2328.8 954.9 2338.7 956.0 C2348.5 957.1 2354.2 955.4 2362.0 954.5 C2369.8 953.6 2375.2 952.5 2385.5 950.5 C2395.8 948.5 2417.6 943.7 2424.0 942.3" fill="none" stroke="#000" stroke-width="3"/>
</svg></body></html>
